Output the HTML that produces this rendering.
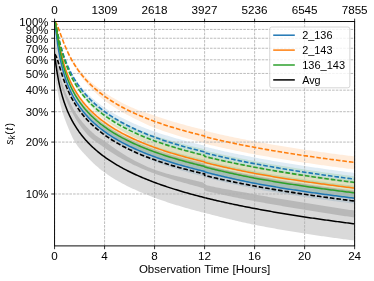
<!DOCTYPE html>
<html><head><meta charset="utf-8"><title>plot</title>
<style>html,body{margin:0;padding:0;background:#fff}svg{display:block}text{font-family:"Liberation Sans",sans-serif;font-size:10.6px;fill:#000}</style></head><body>
<svg width="374" height="281" viewBox="0 0 374 281">
<rect width="374" height="281" fill="#fff"/>
<defs><clipPath id="ax"><rect x="54.57" y="21.54" width="300.07" height="224.36"/></clipPath><filter id="noop" x="0" y="0" width="374" height="281" filterUnits="userSpaceOnUse" color-interpolation-filters="sRGB"><feOffset dx="0" dy="0"/></filter></defs>
<g clip-path="url(#ax)">
<path d="M54.57,21.54 L54.88,23.15 L55.20,25.43 L55.51,27.91 L55.82,30.44 L56.13,32.94 L56.45,35.39 L56.76,37.75 L57.07,40.03 L57.38,42.22 L57.70,44.31 L58.01,46.32 L58.32,48.25 L58.63,50.09 L58.95,51.86 L59.26,53.56 L59.57,55.19 L59.88,56.76 L60.20,58.27 L60.51,59.73 L60.82,61.14 L61.13,62.50 L61.45,63.81 L61.76,65.08 L62.07,66.31 L62.38,67.50 L62.70,68.66 L63.01,69.78 L63.32,70.87 L63.63,71.93 L63.95,72.96 L64.26,73.97 L64.57,74.95 L64.88,75.90 L65.20,76.83 L65.51,77.74 L65.82,78.62 L66.14,79.49 L66.45,80.33 L66.76,81.16 L67.07,81.97 L67.70,83.54 L68.32,85.03 L68.95,86.47 L69.57,87.85 L70.20,89.18 L70.82,90.46 L71.45,91.69 L72.07,92.88 L72.70,94.03 L73.32,95.14 L73.95,96.22 L74.57,97.27 L75.20,98.29 L75.82,99.27 L76.45,100.23 L77.08,101.17 L77.70,102.08 L78.33,102.96 L78.95,103.83 L79.58,104.67 L80.20,105.49 L80.83,106.30 L81.45,107.08 L82.08,107.85 L82.70,108.59 L83.33,109.33 L83.95,110.04 L84.58,110.74 L85.20,111.43 L85.83,112.10 L86.45,112.76 L87.08,113.40 L87.70,114.04 L88.33,114.66 L88.95,115.27 L89.58,115.87 L90.20,116.46 L90.83,117.03 L91.45,117.60 L92.08,118.16 L92.70,118.71 L93.33,119.25 L93.95,119.78 L94.58,120.31 L95.20,120.83 L95.83,121.33 L96.45,121.84 L97.08,122.33 L97.71,122.82 L98.33,123.30 L98.96,123.77 L99.58,124.24 L100.21,124.70 L100.83,125.15 L101.46,125.60 L102.08,126.04 L102.71,126.48 L103.33,126.91 L103.96,127.34 L104.58,127.76 L106.14,128.79 L107.71,129.79 L109.27,130.76 L110.83,131.70 L112.40,132.62 L113.96,133.51 L115.52,134.38 L117.08,135.22 L118.65,136.05 L120.21,136.86 L121.77,137.64 L123.34,138.41 L124.90,139.16 L126.46,139.90 L128.02,140.62 L129.59,141.32 L131.15,142.01 L132.71,142.69 L134.28,143.35 L135.84,144.01 L137.40,144.64 L138.96,145.27 L140.53,145.89 L142.09,146.50 L143.65,147.09 L145.22,147.68 L146.78,148.26 L148.34,148.83 L149.90,149.38 L151.47,149.94 L153.03,150.48 L154.59,151.01 L156.16,151.53 L157.72,152.04 L159.28,152.54 L160.84,153.03 L162.41,153.51 L163.97,153.99 L165.53,154.46 L167.10,154.92 L168.66,155.37 L170.22,155.82 L171.78,156.26 L173.35,156.70 L174.91,157.13 L176.47,157.56 L178.04,157.98 L179.60,158.40 L181.16,158.81 L182.72,159.22 L184.29,159.63 L185.85,160.03 L187.41,160.43 L188.98,160.83 L190.54,161.22 L192.10,161.61 L193.66,161.99 L195.23,162.38 L196.79,162.76 L198.35,163.14 L199.92,163.51 L201.48,163.89 L203.04,164.26 L204.60,164.63 L204.61,165.13 L206.17,165.53 L207.73,165.93 L209.29,166.32 L210.86,166.71 L212.42,167.09 L213.98,167.48 L215.55,167.85 L217.11,168.23 L218.67,168.60 L220.23,168.97 L221.80,169.33 L223.36,169.70 L224.92,170.06 L226.49,170.41 L228.05,170.77 L229.61,171.12 L231.17,171.47 L232.74,171.81 L234.30,172.15 L235.86,172.49 L237.43,172.83 L238.99,173.16 L240.55,173.50 L242.11,173.82 L243.68,174.15 L245.24,174.48 L246.80,174.80 L248.37,175.12 L249.93,175.44 L251.49,175.75 L253.05,176.06 L254.62,176.37 L256.18,176.66 L257.74,176.94 L259.31,177.22 L260.87,177.50 L262.43,177.77 L263.99,178.04 L265.56,178.32 L267.12,178.58 L268.68,178.85 L270.25,179.12 L271.81,179.38 L273.37,179.64 L274.93,179.90 L276.50,180.16 L278.06,180.42 L279.62,180.67 L281.19,180.92 L282.75,181.18 L284.31,181.43 L285.87,181.67 L287.44,181.92 L289.00,182.16 L290.56,182.41 L292.13,182.65 L293.69,182.89 L295.25,183.13 L296.81,183.36 L298.38,183.60 L299.94,183.83 L301.50,184.07 L303.07,184.30 L304.63,184.53 L306.19,184.76 L307.75,184.98 L309.32,185.21 L310.88,185.43 L312.44,185.66 L314.01,185.88 L315.57,186.10 L317.13,186.32 L318.69,186.53 L320.26,186.75 L321.82,186.97 L323.38,187.18 L324.95,187.39 L326.51,187.60 L328.07,187.81 L329.63,188.02 L331.20,188.23 L332.76,188.44 L334.32,188.64 L335.89,188.85 L337.45,189.05 L339.01,189.26 L340.57,189.46 L342.14,189.66 L343.70,189.86 L345.26,190.06 L346.83,190.25 L348.39,190.45 L349.95,190.64 L351.51,190.84 L353.08,191.03 L354.64,191.22 L354.64,203.72 L353.08,203.53 L351.51,203.34 L349.95,203.14 L348.39,202.95 L346.83,202.75 L345.26,202.55 L343.70,202.36 L342.14,202.16 L340.57,201.96 L339.01,201.75 L337.45,201.55 L335.89,201.35 L334.32,201.14 L332.76,200.93 L331.20,200.73 L329.63,200.52 L328.07,200.31 L326.51,200.09 L324.95,199.88 L323.38,199.67 L321.82,199.45 L320.26,199.24 L318.69,199.02 L317.13,198.80 L315.57,198.58 L314.01,198.36 L312.44,198.13 L310.88,197.91 L309.32,197.68 L307.75,197.45 L306.19,197.23 L304.63,197.00 L303.07,196.76 L301.50,196.53 L299.94,196.30 L298.38,196.06 L296.81,195.82 L295.25,195.58 L293.69,195.34 L292.13,195.10 L290.56,194.85 L289.00,194.61 L287.44,194.36 L285.87,194.11 L284.31,193.86 L282.75,193.61 L281.19,193.35 L279.62,193.10 L278.06,192.84 L276.50,192.58 L274.93,192.31 L273.37,192.05 L271.81,191.79 L270.25,191.52 L268.68,191.25 L267.12,190.98 L265.56,190.70 L263.99,190.43 L262.43,190.15 L260.87,189.87 L259.31,189.59 L257.74,189.30 L256.18,189.02 L254.62,188.73 L253.05,188.41 L251.49,188.09 L249.93,187.77 L248.37,187.45 L246.80,187.12 L245.24,186.79 L243.68,186.46 L242.11,186.13 L240.55,185.79 L238.99,185.45 L237.43,185.11 L235.86,184.77 L234.30,184.42 L232.74,184.07 L231.17,183.72 L229.61,183.37 L228.05,183.01 L226.49,182.65 L224.92,182.28 L223.36,181.91 L221.80,181.54 L220.23,181.17 L218.67,180.79 L217.11,180.41 L215.55,180.02 L213.98,179.64 L212.42,179.25 L210.86,178.85 L209.29,178.45 L207.73,178.05 L206.17,177.64 L204.61,177.23 L204.60,176.73 L203.04,176.35 L201.48,175.96 L199.92,175.57 L198.35,175.17 L196.79,174.77 L195.23,174.36 L193.66,173.95 L192.10,173.54 L190.54,173.11 L188.98,172.68 L187.41,172.25 L185.85,171.81 L184.29,171.37 L182.72,170.91 L181.16,170.46 L179.60,169.99 L178.04,169.52 L176.47,169.05 L174.91,168.56 L173.35,168.07 L171.78,167.58 L170.22,167.07 L168.66,166.56 L167.10,166.04 L165.53,165.52 L163.97,164.98 L162.41,164.44 L160.84,163.89 L159.28,163.34 L157.72,162.77 L156.16,162.20 L154.59,161.61 L153.03,161.01 L151.47,160.40 L149.90,159.78 L148.34,159.15 L146.78,158.50 L145.22,157.85 L143.65,157.18 L142.09,156.50 L140.53,155.81 L138.96,155.10 L137.40,154.38 L135.84,153.65 L134.28,152.90 L132.71,152.14 L131.15,151.36 L129.59,150.56 L128.02,149.75 L126.46,148.92 L124.90,148.07 L123.34,147.20 L121.77,146.32 L120.21,145.41 L118.65,144.48 L117.08,143.53 L115.52,142.55 L113.96,141.55 L112.40,140.52 L110.83,139.47 L109.27,138.39 L107.71,137.28 L106.14,136.14 L104.58,134.96 L103.96,134.48 L103.33,133.99 L102.71,133.50 L102.08,133.00 L101.46,132.50 L100.83,131.99 L100.21,131.47 L99.58,130.95 L98.96,130.41 L98.33,129.87 L97.71,129.33 L97.08,128.77 L96.45,128.21 L95.83,127.64 L95.20,127.06 L94.58,126.47 L93.95,125.87 L93.33,125.27 L92.70,124.65 L92.08,124.03 L91.45,123.39 L90.83,122.75 L90.20,122.09 L89.58,121.42 L88.95,120.74 L88.33,120.05 L87.70,119.35 L87.08,118.63 L86.45,117.91 L85.83,117.16 L85.20,116.41 L84.58,115.64 L83.95,114.85 L83.33,114.05 L82.70,113.23 L82.08,112.40 L81.45,111.54 L80.83,110.67 L80.20,109.78 L79.58,108.87 L78.95,107.94 L78.33,106.98 L77.70,106.00 L77.08,105.00 L76.45,103.97 L75.82,102.91 L75.20,101.82 L74.57,100.70 L73.95,99.55 L73.32,98.37 L72.70,97.15 L72.07,95.89 L71.45,94.59 L70.82,93.25 L70.20,91.87 L69.57,90.44 L68.95,88.96 L68.32,87.42 L67.70,85.83 L67.07,84.17 L66.76,83.32 L66.45,82.45 L66.14,81.55 L65.82,80.64 L65.51,79.71 L65.20,78.75 L64.88,77.77 L64.57,76.77 L64.26,75.74 L63.95,74.69 L63.63,73.60 L63.32,72.49 L63.01,71.34 L62.70,70.16 L62.38,68.95 L62.07,67.70 L61.76,66.41 L61.45,65.08 L61.13,63.71 L60.82,62.29 L60.51,60.82 L60.20,59.30 L59.88,57.73 L59.57,56.09 L59.26,54.39 L58.95,52.63 L58.63,50.79 L58.32,48.88 L58.01,46.89 L57.70,44.82 L57.38,42.66 L57.07,40.41 L56.76,38.07 L56.45,35.64 L56.13,33.14 L55.82,30.58 L55.51,28.00 L55.20,25.48 L54.88,23.17 L54.57,21.54Z" fill="#1f77b4" fill-opacity="0.15"/>
<path d="M54.57,21.54 L54.88,22.22 L55.20,23.23 L55.51,24.40 L55.82,25.66 L56.13,26.96 L56.45,28.30 L56.76,29.65 L57.07,31.00 L57.38,32.34 L57.70,33.67 L58.01,34.98 L58.32,36.27 L58.63,37.54 L58.95,38.78 L59.26,40.00 L59.57,41.19 L59.88,42.36 L60.20,43.50 L60.51,44.61 L60.82,45.71 L61.13,46.77 L61.45,47.82 L61.76,48.84 L62.07,49.84 L62.38,50.82 L62.70,51.78 L63.01,52.72 L63.32,53.63 L63.63,54.53 L63.95,55.41 L64.26,56.28 L64.57,57.12 L64.88,57.95 L65.20,58.77 L65.51,59.56 L65.82,60.35 L66.14,61.12 L66.45,61.87 L66.76,62.61 L67.07,63.34 L67.70,64.75 L68.32,66.12 L68.95,67.44 L69.57,68.71 L70.20,69.94 L70.82,71.13 L71.45,72.29 L72.07,73.41 L72.70,74.50 L73.32,75.55 L73.95,76.58 L74.57,77.58 L75.20,78.55 L75.82,79.50 L76.45,80.42 L77.08,81.32 L77.70,82.20 L78.33,83.06 L78.95,83.90 L79.58,84.72 L80.20,85.52 L80.83,86.30 L81.45,87.06 L82.08,87.81 L82.70,88.54 L83.33,89.25 L83.95,89.95 L84.58,90.63 L85.20,91.30 L85.83,91.96 L86.45,92.61 L87.08,93.24 L87.70,93.86 L88.33,94.48 L88.95,95.08 L89.58,95.67 L90.20,96.26 L90.83,96.83 L91.45,97.40 L92.08,97.96 L92.70,98.51 L93.33,99.06 L93.95,99.59 L94.58,100.12 L95.20,100.64 L95.83,101.16 L96.45,101.66 L97.08,102.16 L97.71,102.65 L98.33,103.14 L98.96,103.62 L99.58,104.09 L100.21,104.56 L100.83,105.02 L101.46,105.48 L102.08,105.93 L102.71,106.37 L103.33,106.81 L103.96,107.24 L104.58,107.67 L106.14,108.72 L107.71,109.74 L109.27,110.73 L110.83,111.69 L112.40,112.63 L113.96,113.54 L115.52,114.43 L117.08,115.29 L118.65,116.14 L120.21,116.97 L121.77,117.77 L123.34,118.56 L124.90,119.34 L126.46,120.10 L128.02,120.84 L129.59,121.57 L131.15,122.28 L132.71,122.98 L134.28,123.67 L135.84,124.35 L137.40,125.01 L138.96,125.66 L140.53,126.31 L142.09,126.94 L143.65,127.55 L145.22,128.14 L146.78,128.73 L148.34,129.31 L149.90,129.88 L151.47,130.45 L153.03,131.00 L154.59,131.55 L156.16,132.09 L157.72,132.62 L159.28,133.14 L160.84,133.65 L162.41,134.15 L163.97,134.65 L165.53,135.14 L167.10,135.62 L168.66,136.10 L170.22,136.57 L171.78,137.04 L173.35,137.49 L174.91,137.95 L176.47,138.40 L178.04,138.84 L179.60,139.28 L181.16,139.71 L182.72,140.14 L184.29,140.56 L185.85,140.98 L187.41,141.40 L188.98,141.81 L190.54,142.22 L192.10,142.62 L193.66,143.03 L195.23,143.42 L196.79,143.82 L198.35,144.21 L199.92,144.60 L201.48,144.98 L203.04,145.37 L204.60,145.75 L204.61,146.58 L206.17,146.97 L207.73,147.36 L209.29,147.74 L210.86,148.12 L212.42,148.50 L213.98,148.87 L215.55,149.24 L217.11,149.61 L218.67,149.97 L220.23,150.33 L221.80,150.69 L223.36,151.04 L224.92,151.39 L226.49,151.74 L228.05,152.08 L229.61,152.42 L231.17,152.76 L232.74,153.09 L234.30,153.42 L235.86,153.75 L237.43,154.08 L238.99,154.40 L240.55,154.72 L242.11,155.04 L243.68,155.36 L245.24,155.67 L246.80,155.98 L248.37,156.29 L249.93,156.59 L251.49,156.90 L253.05,157.20 L254.62,157.49 L256.18,157.79 L257.74,158.08 L259.31,158.38 L260.87,158.66 L262.43,158.95 L263.99,159.24 L265.56,159.52 L267.12,159.80 L268.68,160.08 L270.25,160.36 L271.81,160.63 L273.37,160.90 L274.93,161.17 L276.50,161.44 L278.06,161.71 L279.62,161.98 L281.19,162.24 L282.75,162.50 L284.31,162.76 L285.87,163.02 L287.44,163.28 L289.00,163.53 L290.56,163.78 L292.13,164.04 L293.69,164.29 L295.25,164.53 L296.81,164.78 L298.38,165.03 L299.94,165.27 L301.50,165.51 L303.07,165.75 L304.63,165.99 L306.19,166.23 L307.75,166.47 L309.32,166.70 L310.88,166.93 L312.44,167.17 L314.01,167.40 L315.57,167.63 L317.13,167.85 L318.69,168.08 L320.26,168.30 L321.82,168.53 L323.38,168.75 L324.95,168.97 L326.51,169.19 L328.07,169.41 L329.63,169.63 L331.20,169.85 L332.76,170.06 L334.32,170.27 L335.89,170.49 L337.45,170.70 L339.01,170.91 L340.57,171.12 L342.14,171.33 L343.70,171.53 L345.26,171.74 L346.83,171.94 L348.39,172.15 L349.95,172.35 L351.51,172.55 L353.08,172.75 L354.64,172.95 L354.64,183.65 L353.08,183.45 L351.51,183.25 L349.95,183.05 L348.39,182.85 L346.83,182.64 L345.26,182.44 L343.70,182.23 L342.14,182.03 L340.57,181.82 L339.01,181.61 L337.45,181.40 L335.89,181.19 L334.32,180.97 L332.76,180.76 L331.20,180.55 L329.63,180.33 L328.07,180.11 L326.51,179.89 L324.95,179.67 L323.38,179.45 L321.82,179.23 L320.26,179.00 L318.69,178.78 L317.13,178.55 L315.57,178.33 L314.01,178.10 L312.44,177.87 L310.88,177.63 L309.32,177.40 L307.75,177.17 L306.19,176.93 L304.63,176.69 L303.07,176.45 L301.50,176.21 L299.94,175.97 L298.38,175.73 L296.81,175.48 L295.25,175.23 L293.69,174.99 L292.13,174.74 L290.56,174.48 L289.00,174.23 L287.44,173.98 L285.87,173.72 L284.31,173.46 L282.75,173.20 L281.19,172.94 L279.62,172.68 L278.06,172.41 L276.50,172.14 L274.93,171.87 L273.37,171.60 L271.81,171.33 L270.25,171.06 L268.68,170.78 L267.12,170.50 L265.56,170.22 L263.99,169.94 L262.43,169.65 L260.87,169.36 L259.31,169.08 L257.74,168.78 L256.18,168.49 L254.62,168.19 L253.05,167.90 L251.49,167.60 L249.93,167.29 L248.37,166.99 L246.80,166.68 L245.24,166.37 L243.68,166.06 L242.11,165.74 L240.55,165.42 L238.99,165.10 L237.43,164.78 L235.86,164.45 L234.30,164.12 L232.74,163.79 L231.17,163.46 L229.61,163.12 L228.05,162.78 L226.49,162.44 L224.92,162.09 L223.36,161.74 L221.80,161.39 L220.23,161.03 L218.67,160.67 L217.11,160.31 L215.55,159.94 L213.98,159.57 L212.42,159.20 L210.86,158.82 L209.29,158.44 L207.73,158.06 L206.17,157.67 L204.61,157.28 L204.60,156.45 L203.04,156.07 L201.48,155.68 L199.92,155.29 L198.35,154.89 L196.79,154.48 L195.23,154.08 L193.66,153.66 L192.10,153.24 L190.54,152.81 L188.98,152.38 L187.41,151.94 L185.85,151.49 L184.29,151.04 L182.72,150.58 L181.16,150.12 L179.60,149.65 L178.04,149.17 L176.47,148.69 L174.91,148.20 L173.35,147.70 L171.78,147.19 L170.22,146.68 L168.66,146.16 L167.10,145.63 L165.53,145.10 L163.97,144.56 L162.41,144.01 L160.84,143.45 L159.28,142.89 L157.72,142.32 L156.16,141.74 L154.59,141.15 L153.03,140.55 L151.47,139.94 L149.90,139.33 L148.34,138.70 L146.78,138.06 L145.22,137.42 L143.65,136.76 L142.09,136.08 L140.53,135.39 L138.96,134.67 L137.40,133.95 L135.84,133.21 L134.28,132.46 L132.71,131.70 L131.15,130.92 L129.59,130.12 L128.02,129.31 L126.46,128.48 L124.90,127.63 L123.34,126.76 L121.77,125.88 L120.21,124.97 L118.65,124.05 L117.08,123.10 L115.52,122.12 L113.96,121.13 L112.40,120.11 L110.83,119.06 L109.27,117.98 L107.71,116.88 L106.14,115.74 L104.58,114.57 L103.96,114.10 L103.33,113.61 L102.71,113.12 L102.08,112.63 L101.46,112.13 L100.83,111.62 L100.21,111.11 L99.58,110.58 L98.96,110.06 L98.33,109.52 L97.71,108.98 L97.08,108.43 L96.45,107.88 L95.83,107.31 L95.20,106.74 L94.58,106.16 L93.95,105.57 L93.33,104.97 L92.70,104.36 L92.08,103.75 L91.45,103.12 L90.83,102.49 L90.20,101.84 L89.58,101.18 L88.95,100.52 L88.33,99.84 L87.70,99.15 L87.08,98.45 L86.45,97.73 L85.83,97.01 L85.20,96.27 L84.58,95.51 L83.95,94.74 L83.33,93.96 L82.70,93.16 L82.08,92.35 L81.45,91.52 L80.83,90.67 L80.20,89.80 L79.58,88.92 L78.95,88.01 L78.33,87.09 L77.70,86.14 L77.08,85.17 L76.45,84.17 L75.82,83.15 L75.20,82.10 L74.57,81.03 L73.95,79.92 L73.32,78.79 L72.70,77.63 L72.07,76.43 L71.45,75.20 L70.82,73.94 L70.20,72.64 L69.57,71.30 L68.95,69.92 L68.32,68.51 L67.70,67.04 L67.07,65.54 L66.76,64.77 L66.45,63.98 L66.14,63.18 L65.82,62.37 L65.51,61.54 L65.20,60.69 L64.88,59.83 L64.57,58.95 L64.26,58.05 L63.95,57.14 L63.63,56.20 L63.32,55.25 L63.01,54.28 L62.70,53.29 L62.38,52.27 L62.07,51.24 L61.76,50.18 L61.45,49.10 L61.13,47.99 L60.82,46.86 L60.51,45.71 L60.20,44.53 L59.88,43.33 L59.57,42.10 L59.26,40.84 L58.95,39.56 L58.63,38.25 L58.32,36.92 L58.01,35.56 L57.70,34.18 L57.38,32.79 L57.07,31.39 L56.76,29.97 L56.45,28.56 L56.13,27.17 L55.82,25.80 L55.51,24.50 L55.20,23.29 L54.88,22.24 L54.57,21.54Z" fill="#1f77b4" fill-opacity="0.15"/>
<path d="M54.57,21.54 L54.88,21.81 L55.20,22.50 L55.51,23.51 L55.82,24.79 L56.13,26.26 L56.45,27.87 L56.76,29.58 L57.07,31.34 L57.38,33.12 L57.70,34.91 L58.01,36.68 L58.32,38.43 L58.63,40.14 L58.95,41.82 L59.26,43.45 L59.57,45.04 L59.88,46.58 L60.20,48.08 L60.51,49.54 L60.82,50.95 L61.13,52.32 L61.45,53.64 L61.76,54.93 L62.07,56.19 L62.38,57.40 L62.70,58.58 L63.01,59.73 L63.32,60.85 L63.63,61.94 L63.95,62.99 L64.26,64.03 L64.57,65.03 L64.88,66.01 L65.20,66.96 L65.51,67.90 L65.82,68.81 L66.14,69.69 L66.45,70.56 L66.76,71.41 L67.07,72.24 L67.70,73.85 L68.32,75.38 L68.95,76.85 L69.57,78.27 L70.20,79.62 L70.82,80.93 L71.45,82.19 L72.07,83.40 L72.70,84.58 L73.32,85.71 L73.95,86.81 L74.57,87.87 L75.20,88.91 L75.82,89.91 L76.45,90.88 L77.08,91.83 L77.70,92.75 L78.33,93.65 L78.95,94.53 L79.58,95.38 L80.20,96.21 L80.83,97.02 L81.45,97.81 L82.08,98.59 L82.70,99.34 L83.33,100.08 L83.95,100.80 L84.58,101.51 L85.20,102.20 L85.83,102.87 L86.45,103.54 L87.08,104.19 L87.70,104.82 L88.33,105.45 L88.95,106.06 L89.58,106.66 L90.20,107.25 L90.83,107.83 L91.45,108.40 L92.08,108.96 L92.70,109.52 L93.33,110.06 L93.95,110.59 L94.58,111.12 L95.20,111.63 L95.83,112.14 L96.45,112.64 L97.08,113.14 L97.71,113.63 L98.33,114.11 L98.96,114.58 L99.58,115.05 L100.21,115.51 L100.83,115.96 L101.46,116.41 L102.08,116.85 L102.71,117.29 L103.33,117.72 L103.96,118.14 L104.58,118.56 L106.14,119.59 L107.71,120.59 L109.27,121.56 L110.83,122.50 L112.40,123.41 L113.96,124.30 L115.52,125.16 L117.08,126.00 L118.65,126.82 L120.21,127.62 L121.77,128.40 L123.34,129.17 L124.90,129.91 L126.46,130.65 L128.02,131.36 L129.59,132.06 L131.15,132.75 L132.71,133.42 L134.28,134.08 L135.84,134.72 L137.40,135.36 L138.96,135.98 L140.53,136.59 L142.09,137.19 L143.65,137.79 L145.22,138.37 L146.78,138.94 L148.34,139.50 L149.90,140.06 L151.47,140.60 L153.03,141.14 L154.59,141.67 L156.16,142.18 L157.72,142.68 L159.28,143.18 L160.84,143.66 L162.41,144.14 L163.97,144.61 L165.53,145.08 L167.10,145.53 L168.66,145.98 L170.22,146.43 L171.78,146.86 L173.35,147.30 L174.91,147.72 L176.47,148.15 L178.04,148.56 L179.60,148.98 L181.16,149.39 L182.72,149.79 L184.29,150.19 L185.85,150.59 L187.41,150.98 L188.98,151.37 L190.54,151.76 L192.10,152.15 L193.66,152.53 L195.23,152.91 L196.79,153.29 L198.35,153.66 L199.92,154.03 L201.48,154.40 L203.04,154.77 L204.60,155.13 L204.61,155.63 L206.17,156.02 L207.73,156.40 L209.29,156.78 L210.86,157.16 L212.42,157.53 L213.98,157.90 L215.55,158.26 L217.11,158.62 L218.67,158.98 L220.23,159.34 L221.80,159.69 L223.36,160.04 L224.92,160.38 L226.49,160.73 L228.05,161.07 L229.61,161.41 L231.17,161.74 L232.74,162.07 L234.30,162.40 L235.86,162.73 L237.43,163.05 L238.99,163.37 L240.55,163.69 L242.11,164.01 L243.68,164.32 L245.24,164.63 L246.80,164.94 L248.37,165.25 L249.93,165.55 L251.49,165.85 L253.05,166.15 L254.62,166.45 L256.18,166.73 L257.74,167.01 L259.31,167.29 L260.87,167.56 L262.43,167.83 L263.99,168.10 L265.56,168.37 L267.12,168.64 L268.68,168.90 L270.25,169.16 L271.81,169.42 L273.37,169.68 L274.93,169.94 L276.50,170.19 L278.06,170.44 L279.62,170.70 L281.19,170.95 L282.75,171.19 L284.31,171.44 L285.87,171.68 L287.44,171.93 L289.00,172.17 L290.56,172.41 L292.13,172.65 L293.69,172.88 L295.25,173.12 L296.81,173.35 L298.38,173.59 L299.94,173.82 L301.50,174.05 L303.07,174.28 L304.63,174.50 L306.19,174.73 L307.75,174.95 L309.32,175.17 L310.88,175.40 L312.44,175.62 L314.01,175.83 L315.57,176.05 L317.13,176.27 L318.69,176.48 L320.26,176.70 L321.82,176.91 L323.38,177.12 L324.95,177.33 L326.51,177.54 L328.07,177.75 L329.63,177.95 L331.20,178.16 L332.76,178.36 L334.32,178.57 L335.89,178.77 L337.45,178.97 L339.01,179.17 L340.57,179.37 L342.14,179.57 L343.70,179.76 L345.26,179.96 L346.83,180.15 L348.39,180.35 L349.95,180.54 L351.51,180.73 L353.08,180.92 L354.64,181.11 L354.64,193.61 L353.08,193.42 L351.51,193.23 L349.95,193.04 L348.39,192.85 L346.83,192.65 L345.26,192.46 L343.70,192.26 L342.14,192.06 L340.57,191.87 L339.01,191.67 L337.45,191.47 L335.89,191.26 L334.32,191.06 L332.76,190.86 L331.20,190.65 L329.63,190.45 L328.07,190.24 L326.51,190.03 L324.95,189.82 L323.38,189.61 L321.82,189.40 L320.26,189.18 L318.69,188.97 L317.13,188.75 L315.57,188.53 L314.01,188.31 L312.44,188.09 L310.88,187.87 L309.32,187.65 L307.75,187.42 L306.19,187.20 L304.63,186.97 L303.07,186.74 L301.50,186.51 L299.94,186.28 L298.38,186.05 L296.81,185.81 L295.25,185.57 L293.69,185.34 L292.13,185.10 L290.56,184.86 L289.00,184.61 L287.44,184.37 L285.87,184.12 L284.31,183.87 L282.75,183.62 L281.19,183.37 L279.62,183.12 L278.06,182.86 L276.50,182.61 L274.93,182.35 L273.37,182.09 L271.81,181.83 L270.25,181.56 L268.68,181.30 L267.12,181.03 L265.56,180.76 L263.99,180.48 L262.43,180.21 L260.87,179.93 L259.31,179.65 L257.74,179.37 L256.18,179.09 L254.62,178.81 L253.05,178.50 L251.49,178.20 L249.93,177.89 L248.37,177.58 L246.80,177.27 L245.24,176.95 L243.68,176.63 L242.11,176.31 L240.55,175.99 L238.99,175.66 L237.43,175.34 L235.86,175.00 L234.30,174.67 L232.74,174.33 L231.17,174.00 L229.61,173.65 L228.05,173.31 L226.49,172.96 L224.92,172.61 L223.36,172.25 L221.80,171.90 L220.23,171.54 L218.67,171.17 L217.11,170.80 L215.55,170.43 L213.98,170.06 L212.42,169.68 L210.86,169.30 L209.29,168.91 L207.73,168.52 L206.17,168.13 L204.61,167.73 L204.60,167.23 L203.04,166.86 L201.48,166.47 L199.92,166.09 L198.35,165.69 L196.79,165.30 L195.23,164.89 L193.66,164.49 L192.10,164.07 L190.54,163.66 L188.98,163.23 L187.41,162.80 L185.85,162.37 L184.29,161.93 L182.72,161.48 L181.16,161.03 L179.60,160.57 L178.04,160.10 L176.47,159.63 L174.91,159.15 L173.35,158.67 L171.78,158.18 L170.22,157.68 L168.66,157.17 L167.10,156.66 L165.53,156.14 L163.97,155.61 L162.41,155.07 L160.84,154.53 L159.28,153.98 L157.72,153.42 L156.16,152.85 L154.59,152.27 L153.03,151.67 L151.47,151.07 L149.90,150.45 L148.34,149.82 L146.78,149.18 L145.22,148.53 L143.65,147.87 L142.09,147.20 L140.53,146.51 L138.96,145.81 L137.40,145.10 L135.84,144.37 L134.28,143.62 L132.71,142.87 L131.15,142.09 L129.59,141.30 L128.02,140.49 L126.46,139.67 L124.90,138.82 L123.34,137.96 L121.77,137.08 L120.21,136.18 L118.65,135.25 L117.08,134.30 L115.52,133.33 L113.96,132.33 L112.40,131.31 L110.83,130.26 L109.27,129.19 L107.71,128.08 L106.14,126.94 L104.58,125.76 L103.96,125.29 L103.33,124.80 L102.71,124.31 L102.08,123.81 L101.46,123.31 L100.83,122.80 L100.21,122.28 L99.58,121.75 L98.96,121.22 L98.33,120.68 L97.71,120.14 L97.08,119.58 L96.45,119.02 L95.83,118.45 L95.20,117.87 L94.58,117.28 L93.95,116.68 L93.33,116.07 L92.70,115.46 L92.08,114.83 L91.45,114.19 L90.83,113.54 L90.20,112.89 L89.58,112.22 L88.95,111.54 L88.33,110.84 L87.70,110.14 L87.08,109.42 L86.45,108.68 L85.83,107.94 L85.20,107.18 L84.58,106.40 L83.95,105.61 L83.33,104.80 L82.70,103.98 L82.08,103.14 L81.45,102.28 L80.83,101.40 L80.20,100.50 L79.58,99.58 L78.95,98.64 L78.33,97.67 L77.70,96.68 L77.08,95.66 L76.45,94.62 L75.82,93.55 L75.20,92.44 L74.57,91.31 L73.95,90.14 L73.32,88.94 L72.70,87.70 L72.07,86.42 L71.45,85.09 L70.82,83.73 L70.20,82.32 L69.57,80.85 L68.95,79.34 L68.32,77.77 L67.70,76.14 L67.07,74.44 L66.76,73.57 L66.45,72.67 L66.14,71.76 L65.82,70.82 L65.51,69.87 L65.20,68.89 L64.88,67.88 L64.57,66.85 L64.26,65.80 L63.95,64.72 L63.63,63.61 L63.32,62.47 L63.01,61.29 L62.70,60.09 L62.38,58.85 L62.07,57.58 L61.76,56.27 L61.45,54.92 L61.13,53.53 L60.82,52.10 L60.51,50.63 L60.20,49.11 L59.88,47.55 L59.57,45.94 L59.26,44.29 L58.95,42.59 L58.63,40.85 L58.32,39.07 L58.01,37.25 L57.70,35.41 L57.38,33.56 L57.07,31.71 L56.76,29.89 L56.45,28.13 L56.13,26.46 L55.82,24.93 L55.51,23.61 L55.20,22.55 L54.88,21.83 L54.57,21.54Z" fill="#ff7f0e" fill-opacity="0.15"/>
<path d="M54.57,21.54 L54.88,21.63 L55.20,21.86 L55.51,22.18 L55.82,22.58 L56.13,23.06 L56.45,23.61 L56.76,24.20 L57.07,24.85 L57.38,25.53 L57.70,26.25 L58.01,27.00 L58.32,27.77 L58.63,28.56 L58.95,29.36 L59.26,30.18 L59.57,31.00 L59.88,31.83 L60.20,32.66 L60.51,33.49 L60.82,34.32 L61.13,35.15 L61.45,35.97 L61.76,36.79 L62.07,37.60 L62.38,38.41 L62.70,39.20 L63.01,39.99 L63.32,40.78 L63.63,41.55 L63.95,42.31 L64.26,43.06 L64.57,43.81 L64.88,44.54 L65.20,45.27 L65.51,45.99 L65.82,46.69 L66.14,47.39 L66.45,48.08 L66.76,48.75 L67.07,49.42 L67.70,50.73 L68.32,52.00 L68.95,53.23 L69.57,54.42 L70.20,55.58 L70.82,56.70 L71.45,57.80 L72.07,58.86 L72.70,59.90 L73.32,60.91 L73.95,61.89 L74.57,62.85 L75.20,63.78 L75.82,64.70 L76.45,65.59 L77.08,66.46 L77.70,67.31 L78.33,68.15 L78.95,68.96 L79.58,69.76 L80.20,70.55 L80.83,71.31 L81.45,72.06 L82.08,72.80 L82.70,73.51 L83.33,74.22 L83.95,74.91 L84.58,75.59 L85.20,76.25 L85.83,76.90 L86.45,77.54 L87.08,78.17 L87.70,78.79 L88.33,79.40 L88.95,79.99 L89.58,80.58 L90.20,81.16 L90.83,81.73 L91.45,82.29 L92.08,82.84 L92.70,83.38 L93.33,83.92 L93.95,84.45 L94.58,84.97 L95.20,85.48 L95.83,85.98 L96.45,86.48 L97.08,86.98 L97.71,87.46 L98.33,87.94 L98.96,88.41 L99.58,88.88 L100.21,89.34 L100.83,89.80 L101.46,90.25 L102.08,90.70 L102.71,91.14 L103.33,91.57 L103.96,92.00 L104.58,92.43 L106.14,93.47 L107.71,94.50 L109.27,95.49 L110.83,96.46 L112.40,97.41 L113.96,98.34 L115.52,99.24 L117.08,100.12 L118.65,100.98 L120.21,101.82 L121.77,102.63 L123.34,103.43 L124.90,104.21 L126.46,104.97 L128.02,105.71 L129.59,106.44 L131.15,107.14 L132.71,107.83 L134.28,108.50 L135.84,109.16 L137.40,109.80 L138.96,110.42 L140.53,111.00 L142.09,111.55 L143.65,112.07 L145.22,112.57 L146.78,113.06 L148.34,113.56 L149.90,114.05 L151.47,114.55 L153.03,115.07 L154.59,115.61 L156.16,116.15 L157.72,116.69 L159.28,117.22 L160.84,117.74 L162.41,118.25 L163.97,118.76 L165.53,119.26 L167.10,119.75 L168.66,120.24 L170.22,120.72 L171.78,121.20 L173.35,121.67 L174.91,122.13 L176.47,122.59 L178.04,123.04 L179.60,123.49 L181.16,123.93 L182.72,124.37 L184.29,124.80 L185.85,125.23 L187.41,125.65 L188.98,126.07 L190.54,126.48 L192.10,126.89 L193.66,127.29 L195.23,127.69 L196.79,128.09 L198.35,128.48 L199.92,128.87 L201.48,129.25 L203.04,129.63 L204.60,130.01 L204.61,130.71 L206.17,131.09 L207.73,131.47 L209.29,131.84 L210.86,132.22 L212.42,132.59 L213.98,132.95 L215.55,133.31 L217.11,133.67 L218.67,134.02 L220.23,134.38 L221.80,134.72 L223.36,135.07 L224.92,135.41 L226.49,135.75 L228.05,136.08 L229.61,136.42 L231.17,136.75 L232.74,137.07 L234.30,137.40 L235.86,137.72 L237.43,138.04 L238.99,138.35 L240.55,138.66 L242.11,138.98 L243.68,139.28 L245.24,139.59 L246.80,139.89 L248.37,140.19 L249.93,140.49 L251.49,140.79 L253.05,141.08 L254.62,141.37 L256.18,141.66 L257.74,141.95 L259.31,142.23 L260.87,142.51 L262.43,142.79 L263.99,143.07 L265.56,143.35 L267.12,143.62 L268.68,143.89 L270.25,144.16 L271.81,144.43 L273.37,144.70 L274.93,144.96 L276.50,145.23 L278.06,145.49 L279.62,145.75 L281.19,146.00 L282.75,146.26 L284.31,146.51 L285.87,146.77 L287.44,147.02 L289.00,147.26 L290.56,147.51 L292.13,147.76 L293.69,148.00 L295.25,148.24 L296.81,148.48 L298.38,148.72 L299.94,148.96 L301.50,149.20 L303.07,149.43 L304.63,149.67 L306.19,149.90 L307.75,150.13 L309.32,150.36 L310.88,150.58 L312.44,150.81 L314.01,151.04 L315.57,151.26 L317.13,151.48 L318.69,151.70 L320.26,151.92 L321.82,152.14 L323.38,152.36 L324.95,152.57 L326.51,152.79 L328.07,153.00 L329.63,153.21 L331.20,153.42 L332.76,153.63 L334.32,153.84 L335.89,154.05 L337.45,154.26 L339.01,154.46 L340.57,154.67 L342.14,154.87 L343.70,155.07 L345.26,155.27 L346.83,155.47 L348.39,155.67 L349.95,155.87 L351.51,156.07 L353.08,156.26 L354.64,156.46 L354.64,169.46 L353.08,169.26 L351.51,169.07 L349.95,168.87 L348.39,168.67 L346.83,168.47 L345.26,168.27 L343.70,168.07 L342.14,167.87 L340.57,167.67 L339.01,167.46 L337.45,167.26 L335.89,167.05 L334.32,166.84 L332.76,166.63 L331.20,166.42 L329.63,166.21 L328.07,166.00 L326.51,165.79 L324.95,165.57 L323.38,165.35 L321.82,165.14 L320.26,164.92 L318.69,164.70 L317.13,164.48 L315.57,164.25 L314.01,164.03 L312.44,163.81 L310.88,163.58 L309.32,163.35 L307.75,163.12 L306.19,162.89 L304.63,162.66 L303.07,162.42 L301.50,162.19 L299.94,161.95 L298.38,161.71 L296.81,161.47 L295.25,161.23 L293.69,160.99 L292.13,160.75 L290.56,160.50 L289.00,160.25 L287.44,160.00 L285.87,159.75 L284.31,159.50 L282.75,159.24 L281.19,158.99 L279.62,158.73 L278.06,158.47 L276.50,158.21 L274.93,157.94 L273.37,157.68 L271.81,157.41 L270.25,157.14 L268.68,156.87 L267.12,156.60 L265.56,156.32 L263.99,156.04 L262.43,155.76 L260.87,155.48 L259.31,155.20 L257.74,154.91 L256.18,154.63 L254.62,154.34 L253.05,154.04 L251.49,153.75 L249.93,153.45 L248.37,153.15 L246.80,152.85 L245.24,152.54 L243.68,152.24 L242.11,151.93 L240.55,151.62 L238.99,151.30 L237.43,150.98 L235.86,150.66 L234.30,150.34 L232.74,150.01 L231.17,149.69 L229.61,149.35 L228.05,149.02 L226.49,148.68 L224.92,148.34 L223.36,148.00 L221.80,147.65 L220.23,147.30 L218.67,146.95 L217.11,146.59 L215.55,146.23 L213.98,145.87 L212.42,145.50 L210.86,145.13 L209.29,144.75 L207.73,144.37 L206.17,143.99 L204.61,143.61 L204.60,142.91 L203.04,142.53 L201.48,142.14 L199.92,141.75 L198.35,141.36 L196.79,140.96 L195.23,140.56 L193.66,140.15 L192.10,139.74 L190.54,139.32 L188.98,138.89 L187.41,138.46 L185.85,138.03 L184.29,137.58 L182.72,137.14 L181.16,136.68 L179.60,136.22 L178.04,135.75 L176.47,135.28 L174.91,134.80 L173.35,134.31 L171.78,133.81 L170.22,133.31 L168.66,132.80 L167.10,132.28 L165.53,131.75 L163.97,131.22 L162.41,130.67 L160.84,130.12 L159.28,129.56 L157.72,128.98 L156.16,128.40 L154.59,127.81 L153.03,127.20 L151.47,126.55 L149.90,125.88 L148.34,125.19 L146.78,124.47 L145.22,123.74 L143.65,123.00 L142.09,122.24 L140.53,121.48 L138.96,120.71 L137.40,119.96 L135.84,119.20 L134.28,118.43 L132.71,117.64 L131.15,116.85 L129.59,116.04 L128.02,115.22 L126.46,114.38 L124.90,113.53 L123.34,112.66 L121.77,111.78 L120.21,110.87 L118.65,109.95 L117.08,109.00 L115.52,108.04 L113.96,107.04 L112.40,106.03 L110.83,104.98 L109.27,103.91 L107.71,102.80 L106.14,101.66 L104.58,100.48 L103.96,100.00 L103.33,99.51 L102.71,99.01 L102.08,98.51 L101.46,98.00 L100.83,97.49 L100.21,96.96 L99.58,96.43 L98.96,95.90 L98.33,95.35 L97.71,94.80 L97.08,94.24 L96.45,93.68 L95.83,93.10 L95.20,92.52 L94.58,91.93 L93.95,91.33 L93.33,90.72 L92.70,90.10 L92.08,89.47 L91.45,88.83 L90.83,88.18 L90.20,87.52 L89.58,86.85 L88.95,86.18 L88.33,85.49 L87.70,84.78 L87.08,84.07 L86.45,83.34 L85.83,82.61 L85.20,81.86 L84.58,81.09 L83.95,80.32 L83.33,79.52 L82.70,78.72 L82.08,77.90 L81.45,77.06 L80.83,76.21 L80.20,75.35 L79.58,74.46 L78.95,73.56 L78.33,72.64 L77.70,71.70 L77.08,70.74 L76.45,69.76 L75.82,68.75 L75.20,67.72 L74.57,66.67 L73.95,65.59 L73.32,64.48 L72.70,63.35 L72.07,62.19 L71.45,61.00 L70.82,59.79 L70.20,58.54 L69.57,57.26 L68.95,55.95 L68.32,54.61 L67.70,53.23 L67.07,51.82 L66.76,51.11 L66.45,50.38 L66.14,49.64 L65.82,48.89 L65.51,48.13 L65.20,47.36 L64.88,46.58 L64.57,45.79 L64.26,44.99 L63.95,44.18 L63.63,43.36 L63.32,42.53 L63.01,41.68 L62.70,40.83 L62.38,39.97 L62.07,39.10 L61.76,38.23 L61.45,37.34 L61.13,36.45 L60.82,35.56 L60.51,34.66 L60.20,33.76 L59.88,32.86 L59.57,31.96 L59.26,31.07 L58.95,30.18 L58.63,29.30 L58.32,28.44 L58.01,27.60 L57.70,26.78 L57.38,25.99 L57.07,25.23 L56.76,24.52 L56.45,23.86 L56.13,23.25 L55.82,22.72 L55.51,22.26 L55.20,21.90 L54.88,21.65 L54.57,21.54Z" fill="#ff7f0e" fill-opacity="0.15"/>
<path d="M54.57,21.54 L54.88,21.86 L55.20,22.70 L55.51,23.94 L55.82,25.48 L56.13,27.24 L56.45,29.14 L56.76,31.12 L57.07,33.14 L57.38,35.17 L57.70,37.18 L58.01,39.15 L58.32,41.08 L58.63,42.95 L58.95,44.77 L59.26,46.53 L59.57,48.23 L59.88,49.88 L60.20,51.47 L60.51,53.01 L60.82,54.49 L61.13,55.93 L61.45,57.32 L61.76,58.66 L62.07,59.96 L62.38,61.22 L62.70,62.45 L63.01,63.63 L63.32,64.78 L63.63,65.90 L63.95,66.99 L64.26,68.05 L64.57,69.08 L64.88,70.08 L65.20,71.06 L65.51,72.01 L65.82,72.94 L66.14,73.84 L66.45,74.73 L66.76,75.59 L67.07,76.44 L67.70,78.07 L68.32,79.63 L68.95,81.12 L69.57,82.55 L70.20,83.92 L70.82,85.24 L71.45,86.52 L72.07,87.74 L72.70,88.93 L73.32,90.07 L73.95,91.18 L74.57,92.25 L75.20,93.29 L75.82,94.30 L76.45,95.28 L77.08,96.23 L77.70,97.16 L78.33,98.06 L78.95,98.94 L79.58,99.80 L80.20,100.64 L80.83,101.45 L81.45,102.25 L82.08,103.03 L82.70,103.78 L83.33,104.52 L83.95,105.25 L84.58,105.96 L85.20,106.65 L85.83,107.33 L86.45,107.99 L87.08,108.64 L87.70,109.28 L88.33,109.91 L88.95,110.52 L89.58,111.13 L90.20,111.72 L90.83,112.30 L91.45,112.87 L92.08,113.44 L92.70,113.99 L93.33,114.53 L93.95,115.07 L94.58,115.59 L95.20,116.11 L95.83,116.62 L96.45,117.12 L97.08,117.62 L97.71,118.11 L98.33,118.59 L98.96,119.06 L99.58,119.53 L100.21,119.99 L100.83,120.45 L101.46,120.89 L102.08,121.34 L102.71,121.77 L103.33,122.21 L103.96,122.63 L104.58,123.05 L106.14,124.08 L107.71,125.08 L109.27,126.05 L110.83,126.99 L112.40,127.90 L113.96,128.79 L115.52,129.66 L117.08,130.50 L118.65,131.32 L120.21,132.12 L121.77,132.90 L123.34,133.67 L124.90,134.42 L126.46,135.15 L128.02,135.86 L129.59,136.56 L131.15,137.25 L132.71,137.92 L134.28,138.58 L135.84,139.23 L137.40,139.86 L138.96,140.48 L140.53,141.10 L142.09,141.70 L143.65,142.29 L145.22,142.87 L146.78,143.44 L148.34,144.01 L149.90,144.56 L151.47,145.11 L153.03,145.64 L154.59,146.17 L156.16,146.69 L157.72,147.19 L159.28,147.68 L160.84,148.17 L162.41,148.65 L163.97,149.12 L165.53,149.58 L167.10,150.04 L168.66,150.49 L170.22,150.93 L171.78,151.37 L173.35,151.80 L174.91,152.23 L176.47,152.65 L178.04,153.07 L179.60,153.48 L181.16,153.89 L182.72,154.30 L184.29,154.70 L185.85,155.10 L187.41,155.49 L188.98,155.88 L190.54,156.27 L192.10,156.65 L193.66,157.04 L195.23,157.41 L196.79,157.79 L198.35,158.17 L199.92,158.54 L201.48,158.91 L203.04,159.28 L204.60,159.64 L204.61,160.14 L206.17,160.53 L207.73,160.93 L209.29,161.31 L210.86,161.69 L212.42,162.07 L213.98,162.45 L215.55,162.82 L217.11,163.19 L218.67,163.56 L220.23,163.92 L221.80,164.28 L223.36,164.64 L224.92,164.99 L226.49,165.34 L228.05,165.69 L229.61,166.04 L231.17,166.38 L232.74,166.72 L234.30,167.06 L235.86,167.39 L237.43,167.72 L238.99,168.05 L240.55,168.38 L242.11,168.70 L243.68,169.02 L245.24,169.34 L246.80,169.66 L248.37,169.97 L249.93,170.29 L251.49,170.60 L253.05,170.90 L254.62,171.21 L256.18,171.49 L257.74,171.77 L259.31,172.04 L260.87,172.32 L262.43,172.59 L263.99,172.86 L265.56,173.13 L267.12,173.39 L268.68,173.66 L270.25,173.92 L271.81,174.18 L273.37,174.44 L274.93,174.69 L276.50,174.95 L278.06,175.20 L279.62,175.45 L281.19,175.70 L282.75,175.95 L284.31,176.20 L285.87,176.44 L287.44,176.68 L289.00,176.92 L290.56,177.16 L292.13,177.40 L293.69,177.64 L295.25,177.88 L296.81,178.11 L298.38,178.34 L299.94,178.57 L301.50,178.80 L303.07,179.03 L304.63,179.26 L306.19,179.48 L307.75,179.71 L309.32,179.93 L310.88,180.15 L312.44,180.37 L314.01,180.59 L315.57,180.81 L317.13,181.02 L318.69,181.24 L320.26,181.45 L321.82,181.66 L323.38,181.87 L324.95,182.08 L326.51,182.29 L328.07,182.50 L329.63,182.71 L331.20,182.91 L332.76,183.12 L334.32,183.32 L335.89,183.52 L337.45,183.72 L339.01,183.92 L340.57,184.12 L342.14,184.32 L343.70,184.52 L345.26,184.71 L346.83,184.91 L348.39,185.10 L349.95,185.29 L351.51,185.48 L353.08,185.68 L354.64,185.87 L354.64,198.37 L353.08,198.18 L351.51,197.98 L349.95,197.79 L348.39,197.60 L346.83,197.41 L345.26,197.21 L343.70,197.02 L342.14,196.82 L340.57,196.62 L339.01,196.42 L337.45,196.22 L335.89,196.02 L334.32,195.82 L332.76,195.61 L331.20,195.41 L329.63,195.20 L328.07,194.99 L326.51,194.78 L324.95,194.57 L323.38,194.36 L321.82,194.15 L320.26,193.94 L318.69,193.72 L317.13,193.51 L315.57,193.29 L314.01,193.07 L312.44,192.85 L310.88,192.63 L309.32,192.40 L307.75,192.18 L306.19,191.95 L304.63,191.73 L303.07,191.50 L301.50,191.27 L299.94,191.03 L298.38,190.80 L296.81,190.57 L295.25,190.33 L293.69,190.09 L292.13,189.85 L290.56,189.61 L289.00,189.37 L287.44,189.12 L285.87,188.88 L284.31,188.63 L282.75,188.38 L281.19,188.13 L279.62,187.88 L278.06,187.62 L276.50,187.36 L274.93,187.10 L273.37,186.84 L271.81,186.58 L270.25,186.32 L268.68,186.05 L267.12,185.78 L265.56,185.51 L263.99,185.24 L262.43,184.97 L260.87,184.69 L259.31,184.41 L257.74,184.13 L256.18,183.85 L254.62,183.56 L253.05,183.25 L251.49,182.94 L249.93,182.62 L248.37,182.30 L246.80,181.98 L245.24,181.66 L243.68,181.33 L242.11,181.01 L240.55,180.68 L238.99,180.34 L237.43,180.01 L235.86,179.67 L234.30,179.33 L232.74,178.98 L231.17,178.63 L229.61,178.28 L228.05,177.93 L226.49,177.58 L224.92,177.22 L223.36,176.85 L221.80,176.49 L220.23,176.12 L218.67,175.75 L217.11,175.37 L215.55,174.99 L213.98,174.61 L212.42,174.23 L210.86,173.84 L209.29,173.44 L207.73,173.05 L206.17,172.65 L204.61,172.24 L204.60,171.74 L203.04,171.36 L201.48,170.98 L199.92,170.59 L198.35,170.20 L196.79,169.80 L195.23,169.40 L193.66,168.99 L192.10,168.58 L190.54,168.16 L188.98,167.74 L187.41,167.31 L185.85,166.87 L184.29,166.43 L182.72,165.99 L181.16,165.53 L179.60,165.07 L178.04,164.61 L176.47,164.14 L174.91,163.66 L173.35,163.17 L171.78,162.68 L170.22,162.18 L168.66,161.68 L167.10,161.16 L165.53,160.64 L163.97,160.11 L162.41,159.58 L160.84,159.03 L159.28,158.48 L157.72,157.92 L156.16,157.35 L154.59,156.77 L153.03,156.18 L151.47,155.57 L149.90,154.96 L148.34,154.33 L146.78,153.69 L145.22,153.04 L143.65,152.38 L142.09,151.70 L140.53,151.01 L138.96,150.31 L137.40,149.60 L135.84,148.87 L134.28,148.13 L132.71,147.37 L131.15,146.59 L129.59,145.80 L128.02,144.99 L126.46,144.17 L124.90,143.32 L123.34,142.46 L121.77,141.58 L120.21,140.67 L118.65,139.75 L117.08,138.80 L115.52,137.83 L113.96,136.83 L112.40,135.81 L110.83,134.76 L109.27,133.68 L107.71,132.57 L106.14,131.43 L104.58,130.25 L103.96,129.77 L103.33,129.29 L102.71,128.80 L102.08,128.30 L101.46,127.79 L100.83,127.28 L100.21,126.76 L99.58,126.24 L98.96,125.71 L98.33,125.17 L97.71,124.62 L97.08,124.06 L96.45,123.50 L95.83,122.93 L95.20,122.34 L94.58,121.75 L93.95,121.16 L93.33,120.55 L92.70,119.93 L92.08,119.30 L91.45,118.66 L90.83,118.01 L90.20,117.35 L89.58,116.68 L88.95,116.00 L88.33,115.30 L87.70,114.60 L87.08,113.88 L86.45,113.14 L85.83,112.39 L85.20,111.63 L84.58,110.85 L83.95,110.06 L83.33,109.25 L82.70,108.42 L82.08,107.58 L81.45,106.71 L80.83,105.83 L80.20,104.93 L79.58,104.00 L78.95,103.06 L78.33,102.08 L77.70,101.09 L77.08,100.07 L76.45,99.02 L75.82,97.94 L75.20,96.83 L74.57,95.68 L73.95,94.51 L73.32,93.29 L72.70,92.04 L72.07,90.75 L71.45,89.42 L70.82,88.04 L70.20,86.62 L69.57,85.14 L68.95,83.60 L68.32,82.01 L67.70,80.36 L67.07,78.64 L66.76,77.75 L66.45,76.84 L66.14,75.91 L65.82,74.96 L65.51,73.98 L65.20,72.98 L64.88,71.95 L64.57,70.90 L64.26,69.82 L63.95,68.71 L63.63,67.57 L63.32,66.40 L63.01,65.19 L62.70,63.95 L62.38,62.67 L62.07,61.35 L61.76,59.99 L61.45,58.59 L61.13,57.14 L60.82,55.64 L60.51,54.10 L60.20,52.50 L59.88,50.84 L59.57,49.13 L59.26,47.37 L58.95,45.54 L58.63,43.66 L58.32,41.72 L58.01,39.72 L57.70,37.69 L57.38,35.61 L57.07,33.52 L56.76,31.44 L56.45,29.39 L56.13,27.43 L55.82,25.62 L55.51,24.03 L55.20,22.75 L54.88,21.88 L54.57,21.54Z" fill="#2ca02c" fill-opacity="0.15"/>
<path d="M54.57,21.54 L54.88,21.92 L55.20,22.66 L55.51,23.65 L55.82,24.79 L56.13,26.05 L56.45,27.39 L56.76,28.78 L57.07,30.20 L57.38,31.65 L57.70,33.09 L58.01,34.53 L58.32,35.95 L58.63,37.36 L58.95,38.74 L59.26,40.10 L59.57,41.44 L59.88,42.74 L60.20,44.02 L60.51,45.27 L60.82,46.49 L61.13,47.68 L61.45,48.84 L61.76,49.98 L62.07,51.09 L62.38,52.17 L62.70,53.23 L63.01,54.26 L63.32,55.27 L63.63,56.26 L63.95,57.22 L64.26,58.17 L64.57,59.09 L64.88,59.99 L65.20,60.88 L65.51,61.74 L65.82,62.59 L66.14,63.42 L66.45,64.23 L66.76,65.03 L67.07,65.81 L67.70,67.33 L68.32,68.79 L68.95,70.19 L69.57,71.55 L70.20,72.85 L70.82,74.11 L71.45,75.33 L72.07,76.51 L72.70,77.65 L73.32,78.75 L73.95,79.83 L74.57,80.87 L75.20,81.88 L75.82,82.87 L76.45,83.83 L77.08,84.76 L77.70,85.68 L78.33,86.56 L78.95,87.43 L79.58,88.28 L80.20,89.11 L80.83,89.91 L81.45,90.70 L82.08,91.47 L82.70,92.23 L83.33,92.96 L83.95,93.68 L84.58,94.39 L85.20,95.08 L85.83,95.76 L86.45,96.42 L87.08,97.07 L87.70,97.71 L88.33,98.34 L88.95,98.96 L89.58,99.57 L90.20,100.16 L90.83,100.75 L91.45,101.32 L92.08,101.89 L92.70,102.45 L93.33,103.00 L93.95,103.54 L94.58,104.07 L95.20,104.59 L95.83,105.11 L96.45,105.62 L97.08,106.12 L97.71,106.62 L98.33,107.11 L98.96,107.59 L99.58,108.07 L100.21,108.54 L100.83,109.00 L101.46,109.46 L102.08,109.91 L102.71,110.36 L103.33,110.80 L103.96,111.24 L104.58,111.67 L106.14,112.73 L107.71,113.76 L109.27,114.75 L110.83,115.72 L112.40,116.67 L113.96,117.59 L115.52,118.49 L117.08,119.36 L118.65,120.22 L120.21,121.05 L121.77,121.87 L123.34,122.67 L124.90,123.45 L126.46,124.21 L128.02,124.96 L129.59,125.69 L131.15,126.40 L132.71,127.11 L134.28,127.80 L135.84,128.47 L137.40,129.14 L138.96,129.79 L140.53,130.43 L142.09,131.05 L143.65,131.66 L145.22,132.25 L146.78,132.83 L148.34,133.40 L149.90,133.96 L151.47,134.51 L153.03,135.06 L154.59,135.59 L156.16,136.12 L157.72,136.63 L159.28,137.14 L160.84,137.64 L162.41,138.12 L163.97,138.60 L165.53,139.08 L167.10,139.54 L168.66,140.00 L170.22,140.46 L171.78,140.90 L173.35,141.34 L174.91,141.78 L176.47,142.21 L178.04,142.64 L179.60,143.06 L181.16,143.47 L182.72,143.89 L184.29,144.30 L185.85,144.70 L187.41,145.10 L188.98,145.50 L190.54,145.89 L192.10,146.29 L193.66,146.67 L195.23,147.06 L196.79,147.44 L198.35,147.82 L199.92,148.20 L201.48,148.58 L203.04,148.95 L204.60,149.32 L204.61,150.35 L206.17,150.74 L207.73,151.12 L209.29,151.50 L210.86,151.88 L212.42,152.25 L213.98,152.62 L215.55,152.98 L217.11,153.35 L218.67,153.70 L220.23,154.06 L221.80,154.41 L223.36,154.76 L224.92,155.10 L226.49,155.44 L228.05,155.78 L229.61,156.12 L231.17,156.45 L232.74,156.78 L234.30,157.11 L235.86,157.43 L237.43,157.75 L238.99,158.07 L240.55,158.38 L242.11,158.70 L243.68,159.01 L245.24,159.32 L246.80,159.62 L248.37,159.93 L249.93,160.23 L251.49,160.52 L253.05,160.82 L254.62,161.11 L256.18,161.41 L257.74,161.70 L259.31,161.98 L260.87,162.27 L262.43,162.55 L263.99,162.83 L265.56,163.11 L267.12,163.39 L268.68,163.66 L270.25,163.93 L271.81,164.20 L273.37,164.47 L274.93,164.74 L276.50,165.00 L278.06,165.27 L279.62,165.53 L281.19,165.79 L282.75,166.05 L284.31,166.30 L285.87,166.56 L287.44,166.81 L289.00,167.06 L290.56,167.31 L292.13,167.56 L293.69,167.80 L295.25,168.05 L296.81,168.29 L298.38,168.53 L299.94,168.77 L301.50,169.01 L303.07,169.25 L304.63,169.48 L306.19,169.72 L307.75,169.95 L309.32,170.18 L310.88,170.41 L312.44,170.64 L314.01,170.87 L315.57,171.09 L317.13,171.32 L318.69,171.54 L320.26,171.76 L321.82,171.98 L323.38,172.20 L324.95,172.42 L326.51,172.63 L328.07,172.85 L329.63,173.06 L331.20,173.28 L332.76,173.49 L334.32,173.70 L335.89,173.91 L337.45,174.12 L339.01,174.32 L340.57,174.53 L342.14,174.73 L343.70,174.94 L345.26,175.14 L346.83,175.34 L348.39,175.54 L349.95,175.74 L351.51,175.94 L353.08,176.14 L354.64,176.34 L354.64,188.94 L353.08,188.74 L351.51,188.54 L349.95,188.34 L348.39,188.14 L346.83,187.94 L345.26,187.74 L343.70,187.54 L342.14,187.33 L340.57,187.13 L339.01,186.92 L337.45,186.72 L335.89,186.51 L334.32,186.30 L332.76,186.09 L331.20,185.88 L329.63,185.66 L328.07,185.45 L326.51,185.23 L324.95,185.02 L323.38,184.80 L321.82,184.58 L320.26,184.36 L318.69,184.14 L317.13,183.92 L315.57,183.69 L314.01,183.47 L312.44,183.24 L310.88,183.01 L309.32,182.78 L307.75,182.55 L306.19,182.32 L304.63,182.08 L303.07,181.85 L301.50,181.61 L299.94,181.37 L298.38,181.13 L296.81,180.89 L295.25,180.65 L293.69,180.40 L292.13,180.16 L290.56,179.91 L289.00,179.66 L287.44,179.41 L285.87,179.16 L284.31,178.90 L282.75,178.65 L281.19,178.39 L279.62,178.13 L278.06,177.87 L276.50,177.60 L274.93,177.34 L273.37,177.07 L271.81,176.80 L270.25,176.53 L268.68,176.26 L267.12,175.99 L265.56,175.71 L263.99,175.43 L262.43,175.15 L260.87,174.87 L259.31,174.58 L257.74,174.30 L256.18,174.01 L254.62,173.71 L253.05,173.42 L251.49,173.12 L249.93,172.83 L248.37,172.53 L246.80,172.22 L245.24,171.92 L243.68,171.61 L242.11,171.30 L240.55,170.98 L238.99,170.67 L237.43,170.35 L235.86,170.03 L234.30,169.71 L232.74,169.38 L231.17,169.05 L229.61,168.72 L228.05,168.38 L226.49,168.04 L224.92,167.70 L223.36,167.36 L221.80,167.01 L220.23,166.66 L218.67,166.30 L217.11,165.95 L215.55,165.58 L213.98,165.22 L212.42,164.85 L210.86,164.48 L209.29,164.10 L207.73,163.72 L206.17,163.34 L204.61,162.95 L204.60,161.92 L203.04,161.55 L201.48,161.17 L199.92,160.78 L198.35,160.39 L196.79,159.98 L195.23,159.58 L193.66,159.16 L192.10,158.74 L190.54,158.31 L188.98,157.87 L187.41,157.43 L185.85,156.98 L184.29,156.52 L182.72,156.05 L181.16,155.58 L179.60,155.10 L178.04,154.61 L176.47,154.11 L174.91,153.61 L173.35,153.10 L171.78,152.58 L170.22,152.05 L168.66,151.52 L167.10,150.98 L165.53,150.43 L163.97,149.88 L162.41,149.31 L160.84,148.74 L159.28,148.17 L157.72,147.58 L156.16,146.99 L154.59,146.39 L153.03,145.79 L151.47,145.17 L149.90,144.54 L148.34,143.91 L146.78,143.26 L145.22,142.60 L143.65,141.93 L142.09,141.25 L140.53,140.54 L138.96,139.81 L137.40,139.07 L135.84,138.32 L134.28,137.56 L132.71,136.78 L131.15,135.98 L129.59,135.17 L128.02,134.34 L126.46,133.49 L124.90,132.63 L123.34,131.74 L121.77,130.84 L120.21,129.92 L118.65,128.97 L117.08,128.00 L115.52,127.01 L113.96,125.99 L112.40,124.94 L110.83,123.87 L109.27,122.77 L107.71,121.64 L106.14,120.47 L104.58,119.27 L103.96,118.78 L103.33,118.28 L102.71,117.78 L102.08,117.27 L101.46,116.76 L100.83,116.23 L100.21,115.70 L99.58,115.16 L98.96,114.62 L98.33,114.07 L97.71,113.51 L97.08,112.94 L96.45,112.36 L95.83,111.78 L95.20,111.19 L94.58,110.59 L93.95,109.97 L93.33,109.35 L92.70,108.72 L92.08,108.09 L91.45,107.44 L90.83,106.78 L90.20,106.10 L89.58,105.42 L88.95,104.73 L88.33,104.03 L87.70,103.31 L87.08,102.58 L86.45,101.84 L85.83,101.08 L85.20,100.31 L84.58,99.53 L83.95,98.73 L83.33,97.91 L82.70,97.09 L82.08,96.24 L81.45,95.38 L80.83,94.50 L80.20,93.60 L79.58,92.68 L78.95,91.74 L78.33,90.78 L77.70,89.80 L77.08,88.79 L76.45,87.76 L75.82,86.70 L75.20,85.61 L74.57,84.50 L73.95,83.35 L73.32,82.18 L72.70,80.97 L72.07,79.72 L71.45,78.44 L70.82,77.11 L70.20,75.75 L69.57,74.34 L68.95,72.89 L68.32,71.38 L67.70,69.83 L67.07,68.21 L66.76,67.39 L66.45,66.54 L66.14,65.68 L65.82,64.80 L65.51,63.90 L65.20,62.99 L64.88,62.05 L64.57,61.09 L64.26,60.12 L63.95,59.12 L63.63,58.10 L63.32,57.06 L63.01,55.99 L62.70,54.90 L62.38,53.78 L62.07,52.64 L61.76,51.47 L61.45,50.27 L61.13,49.04 L60.82,47.79 L60.51,46.50 L60.20,45.19 L59.88,43.84 L59.57,42.47 L59.26,41.07 L58.95,39.64 L58.63,38.18 L58.32,36.71 L58.01,35.21 L57.70,33.70 L57.38,32.18 L57.07,30.67 L56.76,29.18 L56.45,27.72 L56.13,26.31 L55.82,24.99 L55.51,23.78 L55.20,22.75 L54.88,21.95 L54.57,21.54Z" fill="#2ca02c" fill-opacity="0.15"/>
<path d="M54.57,46.10 L54.88,48.10 L55.20,50.25 L55.51,52.36 L55.82,54.42 L56.13,56.39 L56.45,58.28 L56.76,60.10 L57.07,61.84 L57.38,63.52 L57.70,65.12 L58.01,66.67 L58.32,68.15 L58.63,69.59 L58.95,70.97 L59.26,72.30 L59.57,73.59 L59.88,74.84 L60.20,76.05 L60.51,77.22 L60.82,78.35 L61.13,79.45 L61.45,80.52 L61.76,81.57 L62.07,82.58 L62.38,83.57 L62.70,84.53 L63.01,85.46 L63.32,86.38 L63.63,87.27 L63.95,88.14 L64.26,88.99 L64.57,89.83 L64.88,90.64 L65.20,91.43 L65.51,92.19 L65.82,92.94 L66.14,93.68 L66.45,94.40 L66.76,95.11 L67.07,95.80 L67.70,97.17 L68.32,98.50 L68.95,99.82 L69.57,101.11 L70.20,102.40 L70.82,103.69 L71.45,104.97 L72.07,106.23 L72.70,107.47 L73.32,108.66 L73.95,109.81 L74.57,110.91 L75.20,111.95 L75.82,112.95 L76.45,113.91 L77.08,114.86 L77.70,115.78 L78.33,116.67 L78.95,117.55 L79.58,118.40 L80.20,119.24 L80.83,120.05 L81.45,120.85 L82.08,121.63 L82.70,122.39 L83.33,123.14 L83.95,123.87 L84.58,124.59 L85.20,125.29 L85.83,125.98 L86.45,126.65 L87.08,127.31 L87.70,127.96 L88.33,128.60 L88.95,129.23 L89.58,129.84 L90.20,130.44 L90.83,131.04 L91.45,131.62 L92.08,132.20 L92.70,132.76 L93.33,133.32 L93.95,133.86 L94.58,134.40 L95.20,134.93 L95.83,135.43 L96.45,135.90 L97.08,136.34 L97.71,136.75 L98.33,137.15 L98.96,137.54 L99.58,137.92 L100.21,138.29 L100.83,138.67 L101.46,139.05 L102.08,139.44 L102.71,139.83 L103.33,140.24 L103.96,140.67 L104.58,141.11 L106.14,142.24 L107.71,143.37 L109.27,144.50 L110.83,145.61 L112.40,146.72 L113.96,147.82 L115.52,148.90 L117.08,149.96 L118.65,151.01 L120.21,152.04 L121.77,153.05 L123.34,154.04 L124.90,155.01 L126.46,155.97 L128.02,156.90 L129.59,157.81 L131.15,158.70 L132.71,159.58 L134.28,160.43 L135.84,161.26 L137.40,162.06 L138.96,162.85 L140.53,163.62 L142.09,164.37 L143.65,165.09 L145.22,165.80 L146.78,166.49 L148.34,167.16 L149.90,167.80 L151.47,168.43 L153.03,169.04 L154.59,169.64 L156.16,170.21 L157.72,170.75 L159.28,171.28 L160.84,171.78 L162.41,172.27 L163.97,172.74 L165.53,173.19 L167.10,173.63 L168.66,174.06 L170.22,174.48 L171.78,174.89 L173.35,175.29 L174.91,175.69 L176.47,176.08 L178.04,176.46 L179.60,176.84 L181.16,177.21 L182.72,177.59 L184.29,177.96 L185.85,178.33 L187.41,178.70 L188.98,179.06 L190.54,179.43 L192.10,179.80 L193.66,180.17 L195.23,180.55 L196.79,180.92 L198.35,181.30 L199.92,181.68 L201.48,182.06 L203.04,182.45 L204.60,183.79 L204.61,183.79 L206.17,185.12 L207.73,185.50 L209.29,185.86 L210.86,186.20 L212.42,186.54 L213.98,186.87 L215.55,187.20 L217.11,187.51 L218.67,187.82 L220.23,188.12 L221.80,188.41 L223.36,188.70 L224.92,188.99 L226.49,189.27 L228.05,189.55 L229.61,189.83 L231.17,190.11 L232.74,190.38 L234.30,190.66 L235.86,190.93 L237.43,191.20 L238.99,191.48 L240.55,191.75 L242.11,192.02 L243.68,192.30 L245.24,192.58 L246.80,192.86 L248.37,193.14 L249.93,193.42 L251.49,193.71 L253.05,194.00 L254.62,194.30 L256.18,194.59 L257.74,194.88 L259.31,195.17 L260.87,195.46 L262.43,195.75 L263.99,196.03 L265.56,196.32 L267.12,196.60 L268.68,196.88 L270.25,197.16 L271.81,197.43 L273.37,197.71 L274.93,197.98 L276.50,198.25 L278.06,198.52 L279.62,198.78 L281.19,199.05 L282.75,199.31 L284.31,199.58 L285.87,199.84 L287.44,200.10 L289.00,200.35 L290.56,200.61 L292.13,200.87 L293.69,201.12 L295.25,201.37 L296.81,201.62 L298.38,201.87 L299.94,202.12 L301.50,202.36 L303.07,202.61 L304.63,202.85 L306.19,203.09 L307.75,203.33 L309.32,203.58 L310.88,203.82 L312.44,204.07 L314.01,204.31 L315.57,204.56 L317.13,204.80 L318.69,205.05 L320.26,205.30 L321.82,205.54 L323.38,205.79 L324.95,206.03 L326.51,206.28 L328.07,206.52 L329.63,206.76 L331.20,207.01 L332.76,207.25 L334.32,207.49 L335.89,207.74 L337.45,207.98 L339.01,208.22 L340.57,208.46 L342.14,208.70 L343.70,208.93 L345.26,209.17 L346.83,209.41 L348.39,209.64 L349.95,209.88 L351.51,210.11 L353.08,210.34 L354.64,210.57 L354.64,240.57 L353.08,240.37 L351.51,240.17 L349.95,239.97 L348.39,239.77 L346.83,239.57 L345.26,239.36 L343.70,239.16 L342.14,238.95 L340.57,238.74 L339.01,238.53 L337.45,238.32 L335.89,238.11 L334.32,237.89 L332.76,237.68 L331.20,237.46 L329.63,237.24 L328.07,237.02 L326.51,236.80 L324.95,236.58 L323.38,236.36 L321.82,236.13 L320.26,235.90 L318.69,235.67 L317.13,235.45 L315.57,235.21 L314.01,234.98 L312.44,234.75 L310.88,234.51 L309.32,234.27 L307.75,234.03 L306.19,233.79 L304.63,233.55 L303.07,233.31 L301.50,233.06 L299.94,232.81 L298.38,232.56 L296.81,232.31 L295.25,232.06 L293.69,231.81 L292.13,231.55 L290.56,231.29 L289.00,231.03 L287.44,230.77 L285.87,230.51 L284.31,230.24 L282.75,229.97 L281.19,229.70 L279.62,229.43 L278.06,229.16 L276.50,228.88 L274.93,228.60 L273.37,228.32 L271.81,228.04 L270.25,227.76 L268.68,227.47 L267.12,227.18 L265.56,226.89 L263.99,226.60 L262.43,226.31 L260.87,226.01 L259.31,225.71 L257.74,225.41 L256.18,225.10 L254.62,224.80 L253.05,224.49 L251.49,224.17 L249.93,223.85 L248.37,223.52 L246.80,223.19 L245.24,222.85 L243.68,222.51 L242.11,222.17 L240.55,221.81 L238.99,221.46 L237.43,221.10 L235.86,220.74 L234.30,220.37 L232.74,220.00 L231.17,219.62 L229.61,219.24 L228.05,218.86 L226.49,218.47 L224.92,218.09 L223.36,217.70 L221.80,217.30 L220.23,216.91 L218.67,216.51 L217.11,216.12 L215.55,215.72 L213.98,215.32 L212.42,214.92 L210.86,214.52 L209.29,214.12 L207.73,213.73 L206.17,213.33 L204.61,212.94 L204.60,212.94 L203.04,212.54 L201.48,212.15 L199.92,211.74 L198.35,211.34 L196.79,210.92 L195.23,210.51 L193.66,210.09 L192.10,209.66 L190.54,209.23 L188.98,208.80 L187.41,208.36 L185.85,207.92 L184.29,207.47 L182.72,207.01 L181.16,206.55 L179.60,206.09 L178.04,205.61 L176.47,205.14 L174.91,204.65 L173.35,204.16 L171.78,203.67 L170.22,203.16 L168.66,202.65 L167.10,202.14 L165.53,201.61 L163.97,201.08 L162.41,200.55 L160.84,200.00 L159.28,199.45 L157.72,198.89 L156.16,198.32 L154.59,197.74 L153.03,197.15 L151.47,196.56 L149.90,195.95 L148.34,195.34 L146.78,194.72 L145.22,194.09 L143.65,193.45 L142.09,192.80 L140.53,192.13 L138.96,191.46 L137.40,190.78 L135.84,190.08 L134.28,189.37 L132.71,188.65 L131.15,187.92 L129.59,187.17 L128.02,186.40 L126.46,185.63 L124.90,184.83 L123.34,184.02 L121.77,183.18 L120.21,182.33 L118.65,181.46 L117.08,180.57 L115.52,179.66 L113.96,178.72 L112.40,177.76 L110.83,176.77 L109.27,175.75 L107.71,174.70 L106.14,173.62 L104.58,172.51 L103.96,172.05 L103.33,171.59 L102.71,171.12 L102.08,170.64 L101.46,170.15 L100.83,169.66 L100.21,169.16 L99.58,168.65 L98.96,168.14 L98.33,167.61 L97.71,167.08 L97.08,166.54 L96.45,166.00 L95.83,165.44 L95.20,164.88 L94.58,164.31 L93.95,163.73 L93.33,163.14 L92.70,162.55 L92.08,161.94 L91.45,161.33 L90.83,160.71 L90.20,160.09 L89.58,159.45 L88.95,158.81 L88.33,158.16 L87.70,157.50 L87.08,156.84 L86.45,156.18 L85.83,155.52 L85.20,154.86 L84.58,154.19 L83.95,153.52 L83.33,152.84 L82.70,152.15 L82.08,151.45 L81.45,150.75 L80.83,150.02 L80.20,149.29 L79.58,148.53 L78.95,147.76 L78.33,146.96 L77.70,146.13 L77.08,145.27 L76.45,144.37 L75.82,143.43 L75.20,142.45 L74.57,141.41 L73.95,140.31 L73.32,139.14 L72.70,137.92 L72.07,136.64 L71.45,135.31 L70.82,133.93 L70.20,132.50 L69.57,131.03 L68.95,129.53 L68.32,128.01 L67.70,126.47 L67.07,124.94 L66.76,124.17 L66.45,123.39 L66.14,122.60 L65.82,121.79 L65.51,120.96 L65.20,120.12 L64.88,119.26 L64.57,118.39 L64.26,117.49 L63.95,116.58 L63.63,115.64 L63.32,114.69 L63.01,113.71 L62.70,112.71 L62.38,111.69 L62.07,110.64 L61.76,109.56 L61.45,108.46 L61.13,107.32 L60.82,106.15 L60.51,104.95 L60.20,103.71 L59.88,102.43 L59.57,101.11 L59.26,99.75 L58.95,98.34 L58.63,96.88 L58.32,95.36 L58.01,93.80 L57.70,92.21 L57.38,90.57 L57.07,88.90 L56.76,87.18 L56.45,85.41 L56.13,83.60 L55.82,81.73 L55.51,79.81 L55.20,77.85 L54.88,75.89 L54.57,74.10Z" fill="#000000" fill-opacity="0.15"/>
<path d="M54.57,38.24 L54.88,38.45 L55.20,38.84 L55.51,39.36 L55.82,40.00 L56.13,40.74 L56.45,41.56 L56.76,42.46 L57.07,43.40 L57.38,44.40 L57.70,45.43 L58.01,46.49 L58.32,47.57 L58.63,48.66 L58.95,49.76 L59.26,50.87 L59.57,51.98 L59.88,53.09 L60.20,54.19 L60.51,55.28 L60.82,56.36 L61.13,57.43 L61.45,58.49 L61.76,59.54 L62.07,60.57 L62.38,61.59 L62.70,62.60 L63.01,63.59 L63.32,64.56 L63.63,65.53 L63.95,66.47 L64.26,67.41 L64.57,68.33 L64.88,69.24 L65.20,70.13 L65.51,71.01 L65.82,71.87 L66.14,72.72 L66.45,73.55 L66.76,74.38 L67.07,75.18 L67.70,76.76 L68.32,78.28 L68.95,79.75 L69.57,81.18 L70.20,82.55 L70.82,83.88 L71.45,85.17 L72.07,86.42 L72.70,87.64 L73.32,88.82 L73.95,89.98 L74.57,91.10 L75.20,92.19 L75.82,93.25 L76.45,94.29 L77.08,95.30 L77.70,96.29 L78.33,97.25 L78.95,98.19 L79.58,99.11 L80.20,100.01 L80.83,100.88 L81.45,101.74 L82.08,102.58 L82.70,103.40 L83.33,104.20 L83.95,104.99 L84.58,105.76 L85.20,106.51 L85.83,107.25 L86.45,107.98 L87.08,108.69 L87.70,109.39 L88.33,110.07 L88.95,110.75 L89.58,111.41 L90.20,112.06 L90.83,112.70 L91.45,113.33 L92.08,113.96 L92.70,114.57 L93.33,115.17 L93.95,115.76 L94.58,116.34 L95.20,116.92 L95.83,117.48 L96.45,118.04 L97.08,118.58 L97.71,119.12 L98.33,119.65 L98.96,120.17 L99.58,120.68 L100.21,121.19 L100.83,121.68 L101.46,122.17 L102.08,122.65 L102.71,123.13 L103.33,123.59 L103.96,124.05 L104.58,124.50 L106.14,125.60 L107.71,126.67 L109.27,127.71 L110.83,128.73 L112.40,129.71 L113.96,130.67 L115.52,131.61 L117.08,132.52 L118.65,133.41 L120.21,134.28 L121.77,135.13 L123.34,135.95 L124.90,136.77 L126.46,137.56 L128.02,138.34 L129.59,139.10 L131.15,139.84 L132.71,140.58 L134.28,141.29 L135.84,141.99 L137.40,142.68 L138.96,143.36 L140.53,144.03 L142.09,144.68 L143.65,145.30 L145.22,145.91 L146.78,146.51 L148.34,147.10 L149.90,147.68 L151.47,148.25 L153.03,148.81 L154.59,149.36 L156.16,149.91 L157.72,150.44 L159.28,150.97 L160.84,151.48 L162.41,151.99 L163.97,152.50 L165.53,152.99 L167.10,153.48 L168.66,153.96 L170.22,154.44 L171.78,154.90 L173.35,155.37 L174.91,155.82 L176.47,156.27 L178.04,156.71 L179.60,157.15 L181.16,157.58 L182.72,158.01 L184.29,158.43 L185.85,158.85 L187.41,159.26 L188.98,159.66 L190.54,160.06 L192.10,160.46 L193.66,160.85 L195.23,161.24 L196.79,161.62 L198.35,162.00 L199.92,162.37 L201.48,162.74 L203.04,163.10 L204.60,163.47 L204.61,164.96 L206.17,165.34 L207.73,165.71 L209.29,166.09 L210.86,166.46 L212.42,166.82 L213.98,167.18 L215.55,167.54 L217.11,167.90 L218.67,168.25 L220.23,168.60 L221.80,168.95 L223.36,169.29 L224.92,169.63 L226.49,169.96 L228.05,170.30 L229.61,170.63 L231.17,170.95 L232.74,171.28 L234.30,171.60 L235.86,171.92 L237.43,172.24 L238.99,172.55 L240.55,172.86 L242.11,173.17 L243.68,173.48 L245.24,173.78 L246.80,174.08 L248.37,174.38 L249.93,174.68 L251.49,174.97 L253.05,175.26 L254.62,175.55 L256.18,175.84 L257.74,176.12 L259.31,176.41 L260.87,176.69 L262.43,176.97 L263.99,177.24 L265.56,177.52 L267.12,177.79 L268.68,178.06 L270.25,178.33 L271.81,178.60 L273.37,178.86 L274.93,179.12 L276.50,179.39 L278.06,179.64 L279.62,179.90 L281.19,180.16 L282.75,180.41 L284.31,180.66 L285.87,180.92 L287.44,181.16 L289.00,181.41 L290.56,181.66 L292.13,181.90 L293.69,182.15 L295.25,182.39 L296.81,182.63 L298.38,182.86 L299.94,183.10 L301.50,183.34 L303.07,183.57 L304.63,183.80 L306.19,184.03 L307.75,184.26 L309.32,184.49 L310.88,184.72 L312.44,184.94 L314.01,185.17 L315.57,185.39 L317.13,185.61 L318.69,185.83 L320.26,186.05 L321.82,186.27 L323.38,186.48 L324.95,186.70 L326.51,186.91 L328.07,187.12 L329.63,187.34 L331.20,187.55 L332.76,187.75 L334.32,187.96 L335.89,188.17 L337.45,188.38 L339.01,188.58 L340.57,188.78 L342.14,188.99 L343.70,189.19 L345.26,189.39 L346.83,189.59 L348.39,189.78 L349.95,189.98 L351.51,190.18 L353.08,190.37 L354.64,190.57 L354.64,217.57 L353.08,217.33 L351.51,217.09 L349.95,216.85 L348.39,216.61 L346.83,216.37 L345.26,216.13 L343.70,215.89 L342.14,215.65 L340.57,215.40 L339.01,215.16 L337.45,214.91 L335.89,214.67 L334.32,214.42 L332.76,214.17 L331.20,213.93 L329.63,213.68 L328.07,213.43 L326.51,213.18 L324.95,212.93 L323.38,212.68 L321.82,212.43 L320.26,212.18 L318.69,211.93 L317.13,211.68 L315.57,211.44 L314.01,211.19 L312.44,210.94 L310.88,210.69 L309.32,210.44 L307.75,210.19 L306.19,209.95 L304.63,209.70 L303.07,209.46 L301.50,209.21 L299.94,208.96 L298.38,208.71 L296.81,208.46 L295.25,208.20 L293.69,207.95 L292.13,207.69 L290.56,207.44 L289.00,207.18 L287.44,206.92 L285.87,206.66 L284.31,206.39 L282.75,206.13 L281.19,205.87 L279.62,205.60 L278.06,205.33 L276.50,205.06 L274.93,204.79 L273.37,204.52 L271.81,204.25 L270.25,203.97 L268.68,203.69 L267.12,203.42 L265.56,203.14 L263.99,202.86 L262.43,202.58 L260.87,202.29 L259.31,202.01 L257.74,201.73 L256.18,201.44 L254.62,201.15 L253.05,200.86 L251.49,200.57 L249.93,200.28 L248.37,199.98 L246.80,199.69 L245.24,199.39 L243.68,199.09 L242.11,198.78 L240.55,198.48 L238.99,198.17 L237.43,197.86 L235.86,197.55 L234.30,197.23 L232.74,196.92 L231.17,196.60 L229.61,196.27 L228.05,195.95 L226.49,195.62 L224.92,195.29 L223.36,194.95 L221.80,194.61 L220.23,194.27 L218.67,193.93 L217.11,193.58 L215.55,193.23 L213.98,192.87 L212.42,192.51 L210.86,192.15 L209.29,191.78 L207.73,191.41 L206.17,191.04 L204.61,190.31 L204.60,188.82 L203.04,188.05 L201.48,187.63 L199.92,187.21 L198.35,186.79 L196.79,186.37 L195.23,185.95 L193.66,185.52 L192.10,185.09 L190.54,184.67 L188.98,184.24 L187.41,183.80 L185.85,183.37 L184.29,182.93 L182.72,182.49 L181.16,182.05 L179.60,181.60 L178.04,181.15 L176.47,180.69 L174.91,180.23 L173.35,179.77 L171.78,179.29 L170.22,178.82 L168.66,178.33 L167.10,177.84 L165.53,177.35 L163.97,176.84 L162.41,176.33 L160.84,175.81 L159.28,175.28 L157.72,174.73 L156.16,174.18 L154.59,173.61 L153.03,173.04 L151.47,172.45 L149.90,171.85 L148.34,171.24 L146.78,170.62 L145.22,169.99 L143.65,169.35 L142.09,168.70 L140.53,168.01 L138.96,167.31 L137.40,166.60 L135.84,165.87 L134.28,165.14 L132.71,164.38 L131.15,163.62 L129.59,162.83 L128.02,162.03 L126.46,161.22 L124.90,160.39 L123.34,159.54 L121.77,158.68 L120.21,157.79 L118.65,156.89 L117.08,155.97 L115.52,155.03 L113.96,154.06 L112.40,153.08 L110.83,152.07 L109.27,151.04 L107.71,149.99 L106.14,148.91 L104.58,147.80 L103.96,147.36 L103.33,146.92 L102.71,146.48 L102.08,146.05 L101.46,145.61 L100.83,145.19 L100.21,144.76 L99.58,144.33 L98.96,143.90 L98.33,143.48 L97.71,143.05 L97.08,142.62 L96.45,142.18 L95.83,141.74 L95.20,141.30 L94.58,140.84 L93.95,140.38 L93.33,139.91 L92.70,139.43 L92.08,138.93 L91.45,138.42 L90.83,137.89 L90.20,137.34 L89.58,136.77 L88.95,136.17 L88.33,135.55 L87.70,134.90 L87.08,134.23 L86.45,133.54 L85.83,132.83 L85.20,132.11 L84.58,131.37 L83.95,130.62 L83.33,129.84 L82.70,129.05 L82.08,128.23 L81.45,127.40 L80.83,126.54 L80.20,125.67 L79.58,124.78 L78.95,123.86 L78.33,122.92 L77.70,121.96 L77.08,120.98 L76.45,119.97 L75.82,118.95 L75.20,117.89 L74.57,116.82 L73.95,115.72 L73.32,114.60 L72.70,113.45 L72.07,112.29 L71.45,111.09 L70.82,109.88 L70.20,108.64 L69.57,107.38 L68.95,106.09 L68.32,104.76 L67.70,103.40 L67.07,102.00 L66.76,101.28 L66.45,100.56 L66.14,99.81 L65.82,99.06 L65.51,98.29 L65.20,97.51 L64.88,96.72 L64.57,95.91 L64.26,95.08 L63.95,94.23 L63.63,93.37 L63.32,92.48 L63.01,91.57 L62.70,90.65 L62.38,89.70 L62.07,88.74 L61.76,87.75 L61.45,86.75 L61.13,85.72 L60.82,84.68 L60.51,83.62 L60.20,82.55 L59.88,81.45 L59.57,80.35 L59.26,79.23 L58.95,78.10 L58.63,76.96 L58.32,75.82 L58.01,74.69 L57.70,73.55 L57.38,72.43 L57.07,71.33 L56.76,70.25 L56.45,69.21 L56.13,68.21 L55.82,67.26 L55.51,66.38 L55.20,65.57 L54.88,64.85 L54.57,64.24Z" fill="#000000" fill-opacity="0.15"/>
</g>
<path d="M54.57,21.54V245.9M104.58,21.54V245.9M154.59,21.54V245.9M204.60,21.54V245.9M254.62,21.54V245.9M304.63,21.54V245.9M354.64,21.54V245.9M54.57,21.54H354.64M54.57,29.43H354.64M54.57,38.25H354.64M54.57,48.25H354.64M54.57,59.80H354.64M54.57,73.45H354.64M54.57,90.16H354.64M54.57,111.71H354.64M54.57,142.08H354.64M54.57,193.99H354.64" fill="none" stroke="#b0b0b0" stroke-width="0.85" stroke-dasharray="2.6 1.1"/>
<g clip-path="url(#ax)" fill="none" stroke-width="1.5">
<path d="M54.57,21.54 L54.88,23.16 L55.20,25.45 L55.51,27.95 L55.82,30.51 L56.13,33.04 L56.45,35.52 L56.76,37.91 L57.07,40.22 L57.38,42.44 L57.70,44.57 L58.01,46.61 L58.32,48.57 L58.63,50.44 L58.95,52.24 L59.26,53.98 L59.57,55.64 L59.88,57.24 L60.20,58.79 L60.51,60.28 L60.82,61.71 L61.13,63.10 L61.45,64.45 L61.76,65.75 L62.07,67.01 L62.38,68.23 L62.70,69.41 L63.01,70.56 L63.32,71.68 L63.63,72.77 L63.95,73.82 L64.26,74.85 L64.57,75.86 L64.88,76.84 L65.20,77.79 L65.51,78.72 L65.82,79.63 L66.14,80.52 L66.45,81.39 L66.76,82.24 L67.07,83.07 L67.70,84.68 L68.32,86.23 L68.95,87.71 L69.57,89.14 L70.20,90.52 L70.82,91.85 L71.45,93.14 L72.07,94.38 L72.70,95.58 L73.32,96.75 L73.95,97.88 L74.57,98.98 L75.20,100.04 L75.82,101.08 L76.45,102.09 L77.08,103.08 L77.70,104.03 L78.33,104.97 L78.95,105.88 L79.58,106.77 L80.20,107.64 L80.83,108.49 L81.45,109.32 L82.08,110.13 L82.70,110.93 L83.33,111.71 L83.95,112.47 L84.58,113.22 L85.20,113.95 L85.83,114.67 L86.45,115.38 L87.08,116.07 L87.70,116.75 L88.33,117.42 L88.95,118.07 L89.58,118.72 L90.20,119.35 L90.83,119.97 L91.45,120.59 L92.08,121.19 L92.70,121.78 L93.33,122.37 L93.95,122.94 L94.58,123.51 L95.20,124.07 L95.83,124.62 L96.45,125.16 L97.08,125.69 L97.71,126.22 L98.33,126.74 L98.96,127.25 L99.58,127.75 L100.21,128.25 L100.83,128.74 L101.46,129.23 L102.08,129.71 L102.71,130.18 L103.33,130.64 L103.96,131.11 L104.58,131.56 L106.14,132.67 L107.71,133.76 L109.27,134.81 L110.83,135.83 L112.40,136.82 L113.96,137.79 L115.52,138.74 L117.08,139.66 L118.65,140.56 L120.21,141.43 L121.77,142.29 L123.34,143.13 L124.90,143.95 L126.46,144.75 L128.02,145.53 L129.59,146.30 L131.15,147.05 L132.71,147.79 L134.28,148.51 L135.84,149.22 L137.40,149.92 L138.96,150.60 L140.53,151.27 L142.09,151.93 L143.65,152.57 L145.22,153.21 L146.78,153.84 L148.34,154.45 L149.90,155.06 L151.47,155.65 L153.03,156.24 L154.59,156.81 L156.16,157.37 L157.72,157.92 L159.28,158.47 L160.84,159.00 L162.41,159.53 L163.97,160.05 L165.53,160.56 L167.10,161.06 L168.66,161.56 L170.22,162.05 L171.78,162.54 L173.35,163.01 L174.91,163.49 L176.47,163.95 L178.04,164.41 L179.60,164.86 L181.16,165.31 L182.72,165.75 L184.29,166.19 L185.85,166.62 L187.41,167.05 L188.98,167.47 L190.54,167.89 L192.10,168.30 L193.66,168.71 L195.23,169.11 L196.79,169.51 L198.35,169.90 L199.92,170.29 L201.48,170.67 L203.04,171.05 L204.60,171.43 L204.61,171.93 L206.17,172.34 L207.73,172.74 L209.29,173.14 L210.86,173.53 L212.42,173.92 L213.98,174.31 L215.55,174.69 L217.11,175.07 L218.67,175.45 L220.23,175.82 L221.80,176.19 L223.36,176.56 L224.92,176.92 L226.49,177.28 L228.05,177.64 L229.61,177.99 L231.17,178.35 L232.74,178.69 L234.30,179.04 L235.86,179.38 L237.43,179.72 L238.99,180.06 L240.55,180.40 L242.11,180.73 L243.68,181.06 L245.24,181.39 L246.80,181.71 L248.37,182.04 L249.93,182.36 L251.49,182.67 L253.05,182.99 L254.62,183.30 L256.18,183.59 L257.74,183.87 L259.31,184.16 L260.87,184.43 L262.43,184.71 L263.99,184.99 L265.56,185.26 L267.12,185.53 L268.68,185.80 L270.25,186.07 L271.81,186.34 L273.37,186.60 L274.93,186.86 L276.50,187.12 L278.06,187.38 L279.62,187.64 L281.19,187.89 L282.75,188.14 L284.31,188.39 L285.87,188.64 L287.44,188.89 L289.00,189.14 L290.56,189.38 L292.13,189.62 L293.69,189.87 L295.25,190.11 L296.81,190.34 L298.38,190.58 L299.94,190.82 L301.50,191.05 L303.07,191.28 L304.63,191.51 L306.19,191.74 L307.75,191.97 L309.32,192.20 L310.88,192.42 L312.44,192.64 L314.01,192.87 L315.57,193.09 L317.13,193.31 L318.69,193.53 L320.26,193.74 L321.82,193.96 L323.38,194.17 L324.95,194.39 L326.51,194.60 L328.07,194.81 L329.63,195.02 L331.20,195.23 L332.76,195.44 L334.32,195.64 L335.89,195.85 L337.45,196.05 L339.01,196.25 L340.57,196.46 L342.14,196.66 L343.70,196.86 L345.26,197.06 L346.83,197.25 L348.39,197.45 L349.95,197.64 L351.51,197.84 L353.08,198.03 L354.64,198.22" stroke="#1f77b4"/>
<path d="M54.57,21.54 L54.88,22.23 L55.20,23.27 L55.51,24.47 L55.82,25.75 L56.13,27.10 L56.45,28.47 L56.76,29.85 L57.07,31.23 L57.38,32.61 L57.70,33.97 L58.01,35.32 L58.32,36.65 L58.63,37.95 L58.95,39.23 L59.26,40.48 L59.57,41.70 L59.88,42.91 L60.20,44.08 L60.51,45.23 L60.82,46.36 L61.13,47.46 L61.45,48.53 L61.76,49.59 L62.07,50.62 L62.38,51.63 L62.70,52.61 L63.01,53.58 L63.32,54.53 L63.63,55.45 L63.95,56.36 L64.26,57.25 L64.57,58.13 L64.88,58.98 L65.20,59.82 L65.51,60.64 L65.82,61.45 L66.14,62.24 L66.45,63.02 L66.76,63.79 L67.07,64.54 L67.70,66.00 L68.32,67.41 L68.95,68.78 L69.57,70.10 L70.20,71.39 L70.82,72.63 L71.45,73.84 L72.07,75.01 L72.70,76.15 L73.32,77.26 L73.95,78.33 L74.57,79.38 L75.20,80.41 L75.82,81.41 L76.45,82.38 L77.08,83.33 L77.70,84.26 L78.33,85.16 L78.95,86.05 L79.58,86.92 L80.20,87.77 L80.83,88.60 L81.45,89.41 L82.08,90.21 L82.70,90.99 L83.33,91.76 L83.95,92.51 L84.58,93.25 L85.20,93.97 L85.83,94.68 L86.45,95.38 L87.08,96.07 L87.70,96.74 L88.33,97.41 L88.95,98.06 L89.58,98.70 L90.20,99.33 L90.83,99.95 L91.45,100.56 L92.08,101.16 L92.70,101.75 L93.33,102.34 L93.95,102.91 L94.58,103.48 L95.20,104.04 L95.83,104.59 L96.45,105.13 L97.08,105.67 L97.71,106.19 L98.33,106.72 L98.96,107.23 L99.58,107.74 L100.21,108.24 L100.83,108.73 L101.46,109.22 L102.08,109.70 L102.71,110.18 L103.33,110.65 L103.96,111.11 L104.58,111.57 L106.14,112.70 L107.71,113.79 L109.27,114.85 L110.83,115.89 L112.40,116.89 L113.96,117.88 L115.52,118.83 L117.08,119.77 L118.65,120.68 L120.21,121.57 L121.77,122.44 L123.34,123.29 L124.90,124.13 L126.46,124.94 L128.02,125.74 L129.59,126.52 L131.15,127.29 L132.71,128.04 L134.28,128.78 L135.84,129.50 L137.40,130.21 L138.96,130.91 L140.53,131.59 L142.09,132.27 L143.65,132.91 L145.22,133.55 L146.78,134.17 L148.34,134.79 L149.90,135.39 L151.47,135.99 L153.03,136.57 L154.59,137.15 L156.16,137.71 L157.72,138.27 L159.28,138.82 L160.84,139.36 L162.41,139.90 L163.97,140.42 L165.53,140.94 L167.10,141.45 L168.66,141.96 L170.22,142.46 L171.78,142.95 L173.35,143.43 L174.91,143.91 L176.47,144.38 L178.04,144.84 L179.60,145.30 L181.16,145.76 L182.72,146.20 L184.29,146.65 L185.85,147.08 L187.41,147.51 L188.98,147.94 L190.54,148.36 L192.10,148.78 L193.66,149.19 L195.23,149.60 L196.79,150.00 L198.35,150.40 L199.92,150.79 L201.48,151.18 L203.04,151.57 L204.60,151.95 L204.61,152.78 L206.17,153.17 L207.73,153.56 L209.29,153.94 L210.86,154.32 L212.42,154.70 L213.98,155.07 L215.55,155.44 L217.11,155.81 L218.67,156.17 L220.23,156.53 L221.80,156.89 L223.36,157.24 L224.92,157.59 L226.49,157.94 L228.05,158.28 L229.61,158.62 L231.17,158.96 L232.74,159.29 L234.30,159.62 L235.86,159.95 L237.43,160.28 L238.99,160.60 L240.55,160.92 L242.11,161.24 L243.68,161.56 L245.24,161.87 L246.80,162.18 L248.37,162.49 L249.93,162.79 L251.49,163.10 L253.05,163.40 L254.62,163.69 L256.18,163.99 L257.74,164.28 L259.31,164.58 L260.87,164.86 L262.43,165.15 L263.99,165.44 L265.56,165.72 L267.12,166.00 L268.68,166.28 L270.25,166.56 L271.81,166.83 L273.37,167.10 L274.93,167.37 L276.50,167.64 L278.06,167.91 L279.62,168.18 L281.19,168.44 L282.75,168.70 L284.31,168.96 L285.87,169.22 L287.44,169.48 L289.00,169.73 L290.56,169.98 L292.13,170.24 L293.69,170.49 L295.25,170.73 L296.81,170.98 L298.38,171.23 L299.94,171.47 L301.50,171.71 L303.07,171.95 L304.63,172.19 L306.19,172.43 L307.75,172.67 L309.32,172.90 L310.88,173.13 L312.44,173.37 L314.01,173.60 L315.57,173.83 L317.13,174.05 L318.69,174.28 L320.26,174.50 L321.82,174.73 L323.38,174.95 L324.95,175.17 L326.51,175.39 L328.07,175.61 L329.63,175.83 L331.20,176.05 L332.76,176.26 L334.32,176.47 L335.89,176.69 L337.45,176.90 L339.01,177.11 L340.57,177.32 L342.14,177.53 L343.70,177.73 L345.26,177.94 L346.83,178.14 L348.39,178.35 L349.95,178.55 L351.51,178.75 L353.08,178.95 L354.64,179.15" stroke="#1f77b4" stroke-dasharray="4.6 1.95" stroke-width="1.6"/>
<path d="M54.57,21.54 L54.88,21.82 L55.20,22.52 L55.51,23.56 L55.82,24.86 L56.13,26.36 L56.45,28.00 L56.76,29.74 L57.07,31.53 L57.38,33.34 L57.70,35.16 L58.01,36.97 L58.32,38.75 L58.63,40.49 L58.95,42.20 L59.26,43.87 L59.57,45.49 L59.88,47.06 L60.20,48.60 L60.51,50.08 L60.82,51.52 L61.13,52.92 L61.45,54.28 L61.76,55.60 L62.07,56.88 L62.38,58.13 L62.70,59.34 L63.01,60.51 L63.32,61.66 L63.63,62.77 L63.95,63.86 L64.26,64.91 L64.57,65.94 L64.88,66.95 L65.20,67.93 L65.51,68.88 L65.82,69.81 L66.14,70.73 L66.45,71.62 L66.76,72.49 L67.07,73.34 L67.70,74.99 L68.32,76.58 L68.95,78.10 L69.57,79.56 L70.20,80.97 L70.82,82.32 L71.45,83.63 L72.07,84.90 L72.70,86.13 L73.32,87.31 L73.95,88.47 L74.57,89.58 L75.20,90.67 L75.82,91.72 L76.45,92.74 L77.08,93.74 L77.70,94.71 L78.33,95.66 L78.95,96.58 L79.58,97.48 L80.20,98.36 L80.83,99.22 L81.45,100.06 L82.08,100.88 L82.70,101.68 L83.33,102.46 L83.95,103.23 L84.58,103.99 L85.20,104.72 L85.83,105.45 L86.45,106.16 L87.08,106.85 L87.70,107.54 L88.33,108.21 L88.95,108.87 L89.58,109.51 L90.20,110.15 L90.83,110.77 L91.45,111.39 L92.08,111.99 L92.70,112.59 L93.33,113.17 L93.95,113.75 L94.58,114.32 L95.20,114.87 L95.83,115.42 L96.45,115.97 L97.08,116.50 L97.71,117.03 L98.33,117.55 L98.96,118.06 L99.58,118.56 L100.21,119.06 L100.83,119.55 L101.46,120.03 L102.08,120.51 L102.71,120.98 L103.33,121.45 L103.96,121.91 L104.58,122.36 L106.14,123.48 L107.71,124.56 L109.27,125.60 L110.83,126.62 L112.40,127.61 L113.96,128.58 L115.52,129.52 L117.08,130.43 L118.65,131.33 L120.21,132.20 L121.77,133.05 L123.34,133.88 L124.90,134.70 L126.46,135.49 L128.02,136.27 L129.59,137.04 L131.15,137.78 L132.71,138.52 L134.28,139.23 L135.84,139.94 L137.40,140.63 L138.96,141.31 L140.53,141.97 L142.09,142.62 L143.65,143.27 L145.22,143.90 L146.78,144.52 L148.34,145.13 L149.90,145.73 L151.47,146.32 L153.03,146.90 L154.59,147.47 L156.16,148.02 L157.72,148.57 L159.28,149.11 L160.84,149.64 L162.41,150.16 L163.97,150.67 L165.53,151.18 L167.10,151.68 L168.66,152.17 L170.22,152.66 L171.78,153.14 L173.35,153.61 L174.91,154.08 L176.47,154.54 L178.04,154.99 L179.60,155.44 L181.16,155.88 L182.72,156.32 L184.29,156.75 L185.85,157.18 L187.41,157.60 L188.98,158.02 L190.54,158.43 L192.10,158.84 L193.66,159.24 L195.23,159.64 L196.79,160.03 L198.35,160.42 L199.92,160.81 L201.48,161.19 L203.04,161.56 L204.60,161.93 L204.61,162.43 L206.17,162.83 L207.73,163.21 L209.29,163.60 L210.86,163.98 L212.42,164.36 L213.98,164.73 L215.55,165.10 L217.11,165.47 L218.67,165.83 L220.23,166.19 L221.80,166.55 L223.36,166.90 L224.92,167.25 L226.49,167.60 L228.05,167.94 L229.61,168.28 L231.17,168.62 L232.74,168.96 L234.30,169.29 L235.86,169.62 L237.43,169.95 L238.99,170.27 L240.55,170.59 L242.11,170.91 L243.68,171.23 L245.24,171.54 L246.80,171.86 L248.37,172.17 L249.93,172.47 L251.49,172.78 L253.05,173.08 L254.62,173.38 L256.18,173.66 L257.74,173.94 L259.31,174.22 L260.87,174.50 L262.43,174.77 L263.99,175.05 L265.56,175.32 L267.12,175.58 L268.68,175.85 L270.25,176.11 L271.81,176.38 L273.37,176.64 L274.93,176.90 L276.50,177.15 L278.06,177.41 L279.62,177.66 L281.19,177.91 L282.75,178.16 L284.31,178.41 L285.87,178.66 L287.44,178.90 L289.00,179.14 L290.56,179.38 L292.13,179.62 L293.69,179.86 L295.25,180.10 L296.81,180.33 L298.38,180.57 L299.94,180.80 L301.50,181.03 L303.07,181.26 L304.63,181.49 L306.19,181.71 L307.75,181.94 L309.32,182.16 L310.88,182.38 L312.44,182.61 L314.01,182.82 L315.57,183.04 L317.13,183.26 L318.69,183.48 L320.26,183.69 L321.82,183.90 L323.38,184.11 L324.95,184.33 L326.51,184.53 L328.07,184.74 L329.63,184.95 L331.20,185.16 L332.76,185.36 L334.32,185.56 L335.89,185.77 L337.45,185.97 L339.01,186.17 L340.57,186.37 L342.14,186.56 L343.70,186.76 L345.26,186.96 L346.83,187.15 L348.39,187.35 L349.95,187.54 L351.51,187.73 L353.08,187.92 L354.64,188.11" stroke="#ff7f0e"/>
<path d="M54.57,21.54 L54.88,21.64 L55.20,21.88 L55.51,22.23 L55.82,22.66 L56.13,23.17 L56.45,23.74 L56.76,24.37 L57.07,25.05 L57.38,25.77 L57.70,26.53 L58.01,27.31 L58.32,28.12 L58.63,28.94 L58.95,29.78 L59.26,30.63 L59.57,31.49 L59.88,32.35 L60.20,33.22 L60.51,34.08 L60.82,34.95 L61.13,35.81 L61.45,36.67 L61.76,37.52 L62.07,38.36 L62.38,39.20 L62.70,40.02 L63.01,40.84 L63.32,41.66 L63.63,42.46 L63.95,43.25 L64.26,44.03 L64.57,44.80 L64.88,45.57 L65.20,46.32 L65.51,47.06 L65.82,47.79 L66.14,48.51 L66.45,49.23 L66.76,49.93 L67.07,50.62 L67.70,51.98 L68.32,53.30 L68.95,54.59 L69.57,55.83 L70.20,57.05 L70.82,58.23 L71.45,59.39 L72.07,60.51 L72.70,61.61 L73.32,62.67 L73.95,63.71 L74.57,64.73 L75.20,65.72 L75.82,66.69 L76.45,67.64 L77.08,68.56 L77.70,69.47 L78.33,70.35 L78.95,71.22 L79.58,72.06 L80.20,72.89 L80.83,73.71 L81.45,74.50 L82.08,75.29 L82.70,76.05 L83.33,76.80 L83.95,77.54 L84.58,78.26 L85.20,78.97 L85.83,79.67 L86.45,80.36 L87.08,81.03 L87.70,81.70 L88.33,82.35 L88.95,82.99 L89.58,83.62 L90.20,84.24 L90.83,84.85 L91.45,85.45 L92.08,86.04 L92.70,86.62 L93.33,87.20 L93.95,87.76 L94.58,88.32 L95.20,88.87 L95.83,89.41 L96.45,89.94 L97.08,90.47 L97.71,90.99 L98.33,91.50 L98.96,92.01 L99.58,92.51 L100.21,93.00 L100.83,93.48 L101.46,93.97 L102.08,94.44 L102.71,94.91 L103.33,95.37 L103.96,95.83 L104.58,96.28 L106.14,97.38 L107.71,98.46 L109.27,99.50 L110.83,100.52 L112.40,101.51 L113.96,102.48 L115.52,103.42 L117.08,104.33 L118.65,105.23 L120.21,106.10 L121.77,106.96 L123.34,107.80 L124.90,108.61 L126.46,109.41 L128.02,110.20 L129.59,110.96 L131.15,111.72 L132.71,112.45 L134.28,113.18 L135.84,113.89 L137.40,114.58 L138.96,115.27 L140.53,115.94 L142.09,116.60 L143.65,117.23 L145.22,117.86 L146.78,118.48 L148.34,119.08 L149.90,119.68 L151.47,120.27 L153.03,120.84 L154.59,121.41 L156.16,121.97 L157.72,122.52 L159.28,123.06 L160.84,123.60 L162.41,124.12 L163.97,124.64 L165.53,125.15 L167.10,125.66 L168.66,126.15 L170.22,126.64 L171.78,127.13 L173.35,127.60 L174.91,128.07 L176.47,128.54 L178.04,129.00 L179.60,129.45 L181.16,129.90 L182.72,130.34 L184.29,130.78 L185.85,131.21 L187.41,131.63 L188.98,132.05 L190.54,132.47 L192.10,132.88 L193.66,133.29 L195.23,133.69 L196.79,134.08 L198.35,134.48 L199.92,134.87 L201.48,135.25 L203.04,135.63 L204.60,136.01 L204.61,136.71 L206.17,137.09 L207.73,137.47 L209.29,137.84 L210.86,138.22 L212.42,138.59 L213.98,138.95 L215.55,139.31 L217.11,139.67 L218.67,140.02 L220.23,140.38 L221.80,140.72 L223.36,141.07 L224.92,141.41 L226.49,141.75 L228.05,142.08 L229.61,142.42 L231.17,142.75 L232.74,143.07 L234.30,143.40 L235.86,143.72 L237.43,144.04 L238.99,144.35 L240.55,144.66 L242.11,144.98 L243.68,145.28 L245.24,145.59 L246.80,145.89 L248.37,146.19 L249.93,146.49 L251.49,146.79 L253.05,147.08 L254.62,147.37 L256.18,147.66 L257.74,147.95 L259.31,148.23 L260.87,148.51 L262.43,148.79 L263.99,149.07 L265.56,149.35 L267.12,149.62 L268.68,149.89 L270.25,150.16 L271.81,150.43 L273.37,150.70 L274.93,150.96 L276.50,151.23 L278.06,151.49 L279.62,151.75 L281.19,152.00 L282.75,152.26 L284.31,152.51 L285.87,152.77 L287.44,153.02 L289.00,153.26 L290.56,153.51 L292.13,153.76 L293.69,154.00 L295.25,154.24 L296.81,154.48 L298.38,154.72 L299.94,154.96 L301.50,155.20 L303.07,155.43 L304.63,155.67 L306.19,155.90 L307.75,156.13 L309.32,156.36 L310.88,156.58 L312.44,156.81 L314.01,157.04 L315.57,157.26 L317.13,157.48 L318.69,157.70 L320.26,157.92 L321.82,158.14 L323.38,158.36 L324.95,158.57 L326.51,158.79 L328.07,159.00 L329.63,159.21 L331.20,159.42 L332.76,159.63 L334.32,159.84 L335.89,160.05 L337.45,160.26 L339.01,160.46 L340.57,160.67 L342.14,160.87 L343.70,161.07 L345.26,161.27 L346.83,161.47 L348.39,161.67 L349.95,161.87 L351.51,162.07 L353.08,162.26 L354.64,162.46" stroke="#ff7f0e" stroke-dasharray="4.6 1.95" stroke-width="1.6"/>
<path d="M54.57,21.54 L54.88,21.87 L55.20,22.73 L55.51,23.98 L55.82,25.55 L56.13,27.33 L56.45,29.26 L56.76,31.28 L57.07,33.33 L57.38,35.39 L57.70,37.43 L58.01,39.44 L58.32,41.40 L58.63,43.30 L58.95,45.15 L59.26,46.95 L59.57,48.68 L59.88,50.36 L60.20,51.98 L60.51,53.55 L60.82,55.07 L61.13,56.53 L61.45,57.95 L61.76,59.33 L62.07,60.66 L62.38,61.95 L62.70,63.20 L63.01,64.41 L63.32,65.59 L63.63,66.74 L63.95,67.85 L64.26,68.94 L64.57,69.99 L64.88,71.02 L65.20,72.02 L65.51,72.99 L65.82,73.95 L66.14,74.88 L66.45,75.78 L66.76,76.67 L67.07,77.54 L67.70,79.21 L68.32,80.82 L68.95,82.36 L69.57,83.84 L70.20,85.26 L70.82,86.64 L71.45,87.96 L72.07,89.24 L72.70,90.48 L73.32,91.67 L73.95,92.83 L74.57,93.96 L75.20,95.05 L75.82,96.11 L76.45,97.14 L77.08,98.14 L77.70,99.12 L78.33,100.07 L78.95,101.00 L79.58,101.90 L80.20,102.79 L80.83,103.65 L81.45,104.49 L82.08,105.31 L82.70,106.12 L83.33,106.91 L83.95,107.68 L84.58,108.43 L85.20,109.18 L85.83,109.90 L86.45,110.61 L87.08,111.31 L87.70,112.00 L88.33,112.67 L88.95,113.33 L89.58,113.98 L90.20,114.62 L90.83,115.24 L91.45,115.86 L92.08,116.46 L92.70,117.06 L93.33,117.65 L93.95,118.22 L94.58,118.79 L95.20,119.35 L95.83,119.90 L96.45,120.45 L97.08,120.98 L97.71,121.51 L98.33,122.03 L98.96,122.54 L99.58,123.05 L100.21,123.54 L100.83,124.04 L101.46,124.52 L102.08,125.00 L102.71,125.47 L103.33,125.94 L103.96,126.40 L104.58,126.85 L106.14,127.97 L107.71,129.05 L109.27,130.10 L110.83,131.12 L112.40,132.11 L113.96,133.07 L115.52,134.01 L117.08,134.93 L118.65,135.83 L120.21,136.70 L121.77,137.55 L123.34,138.38 L124.90,139.20 L126.46,140.00 L128.02,140.78 L129.59,141.54 L131.15,142.29 L132.71,143.02 L134.28,143.74 L135.84,144.44 L137.40,145.13 L138.96,145.81 L140.53,146.47 L142.09,147.13 L143.65,147.77 L145.22,148.40 L146.78,149.02 L148.34,149.63 L149.90,150.23 L151.47,150.82 L153.03,151.40 L154.59,151.97 L156.16,152.53 L157.72,153.07 L159.28,153.61 L160.84,154.14 L162.41,154.66 L163.97,155.18 L165.53,155.68 L167.10,156.18 L168.66,156.68 L170.22,157.16 L171.78,157.64 L173.35,158.12 L174.91,158.58 L176.47,159.04 L178.04,159.50 L179.60,159.95 L181.16,160.39 L182.72,160.83 L184.29,161.26 L185.85,161.69 L187.41,162.11 L188.98,162.53 L190.54,162.94 L192.10,163.34 L193.66,163.75 L195.23,164.14 L196.79,164.54 L198.35,164.93 L199.92,165.31 L201.48,165.69 L203.04,166.07 L204.60,166.44 L204.61,166.94 L206.17,167.34 L207.73,167.74 L209.29,168.13 L210.86,168.52 L212.42,168.90 L213.98,169.28 L215.55,169.66 L217.11,170.03 L218.67,170.41 L220.23,170.77 L221.80,171.14 L223.36,171.50 L224.92,171.86 L226.49,172.21 L228.05,172.56 L229.61,172.91 L231.17,173.26 L232.74,173.60 L234.30,173.94 L235.86,174.28 L237.43,174.62 L238.99,174.95 L240.55,175.28 L242.11,175.61 L243.68,175.93 L245.24,176.25 L246.80,176.57 L248.37,176.89 L249.93,177.21 L251.49,177.52 L253.05,177.83 L254.62,178.14 L256.18,178.42 L257.74,178.70 L259.31,178.98 L260.87,179.26 L262.43,179.53 L263.99,179.80 L265.56,180.07 L267.12,180.34 L268.68,180.61 L270.25,180.87 L271.81,181.13 L273.37,181.39 L274.93,181.65 L276.50,181.91 L278.06,182.16 L279.62,182.42 L281.19,182.67 L282.75,182.92 L284.31,183.16 L285.87,183.41 L287.44,183.66 L289.00,183.90 L290.56,184.14 L292.13,184.38 L293.69,184.62 L295.25,184.85 L296.81,185.09 L298.38,185.32 L299.94,185.55 L301.50,185.79 L303.07,186.01 L304.63,186.24 L306.19,186.47 L307.75,186.69 L309.32,186.92 L310.88,187.14 L312.44,187.36 L314.01,187.58 L315.57,187.80 L317.13,188.01 L318.69,188.23 L320.26,188.44 L321.82,188.66 L323.38,188.87 L324.95,189.08 L326.51,189.29 L328.07,189.50 L329.63,189.70 L331.20,189.91 L332.76,190.11 L334.32,190.32 L335.89,190.52 L337.45,190.72 L339.01,190.92 L340.57,191.12 L342.14,191.32 L343.70,191.52 L345.26,191.71 L346.83,191.91 L348.39,192.10 L349.95,192.29 L351.51,192.48 L353.08,192.68 L354.64,192.87" stroke="#2ca02c"/>
<path d="M54.57,21.54 L54.88,21.93 L55.20,22.71 L55.51,23.71 L55.82,24.89 L56.13,26.18 L56.45,27.55 L56.76,28.98 L57.07,30.44 L57.38,31.91 L57.70,33.39 L58.01,34.87 L58.32,36.33 L58.63,37.77 L58.95,39.19 L59.26,40.59 L59.57,41.95 L59.88,43.29 L60.20,44.60 L60.51,45.88 L60.82,47.14 L61.13,48.36 L61.45,49.55 L61.76,50.72 L62.07,51.86 L62.38,52.97 L62.70,54.06 L63.01,55.12 L63.32,56.16 L63.63,57.18 L63.95,58.17 L64.26,59.14 L64.57,60.09 L64.88,61.02 L65.20,61.93 L65.51,62.82 L65.82,63.69 L66.14,64.55 L66.45,65.39 L66.76,66.21 L67.07,67.01 L67.70,68.58 L68.32,70.09 L68.95,71.54 L69.57,72.94 L70.20,74.30 L70.82,75.61 L71.45,76.88 L72.07,78.11 L72.70,79.31 L73.32,80.47 L73.95,81.59 L74.57,82.68 L75.20,83.75 L75.82,84.78 L76.45,85.79 L77.08,86.78 L77.70,87.74 L78.33,88.67 L78.95,89.59 L79.58,90.48 L80.20,91.35 L80.83,92.20 L81.45,93.04 L82.08,93.86 L82.70,94.66 L83.33,95.44 L83.95,96.21 L84.58,96.96 L85.20,97.70 L85.83,98.42 L86.45,99.13 L87.08,99.83 L87.70,100.52 L88.33,101.19 L88.95,101.85 L89.58,102.50 L90.20,103.14 L90.83,103.77 L91.45,104.39 L92.08,104.99 L92.70,105.59 L93.33,106.18 L93.95,106.76 L94.58,107.33 L95.20,107.90 L95.83,108.45 L96.45,109.00 L97.08,109.54 L97.71,110.07 L98.33,110.59 L98.96,111.11 L99.58,111.62 L100.21,112.12 L100.83,112.62 L101.46,113.11 L102.08,113.60 L102.71,114.07 L103.33,114.54 L103.96,115.01 L104.58,115.47 L106.14,116.60 L107.71,117.69 L109.27,118.75 L110.83,119.79 L112.40,120.79 L113.96,121.77 L115.52,122.73 L117.08,123.66 L118.65,124.57 L120.21,125.46 L121.77,126.32 L123.34,127.17 L124.90,128.00 L126.46,128.81 L128.02,129.60 L129.59,130.38 L131.15,131.14 L132.71,131.89 L134.28,132.62 L135.84,133.34 L137.40,134.04 L138.96,134.73 L140.53,135.41 L142.09,136.08 L143.65,136.72 L145.22,137.34 L146.78,137.96 L148.34,138.57 L149.90,139.16 L151.47,139.75 L153.03,140.32 L154.59,140.89 L156.16,141.45 L157.72,142.00 L159.28,142.54 L160.84,143.07 L162.41,143.60 L163.97,144.12 L165.53,144.63 L167.10,145.13 L168.66,145.62 L170.22,146.11 L171.78,146.60 L173.35,147.07 L174.91,147.54 L176.47,148.00 L178.04,148.46 L179.60,148.91 L181.16,149.36 L182.72,149.79 L184.29,150.23 L185.85,150.66 L187.41,151.08 L188.98,151.50 L190.54,151.91 L192.10,152.32 L193.66,152.72 L195.23,153.12 L196.79,153.52 L198.35,153.91 L199.92,154.29 L201.48,154.67 L203.04,155.05 L204.60,155.42 L204.61,156.45 L206.17,156.84 L207.73,157.22 L209.29,157.60 L210.86,157.98 L212.42,158.35 L213.98,158.72 L215.55,159.08 L217.11,159.45 L218.67,159.80 L220.23,160.16 L221.80,160.51 L223.36,160.86 L224.92,161.20 L226.49,161.54 L228.05,161.88 L229.61,162.22 L231.17,162.55 L232.74,162.88 L234.30,163.21 L235.86,163.53 L237.43,163.85 L238.99,164.17 L240.55,164.48 L242.11,164.80 L243.68,165.11 L245.24,165.42 L246.80,165.72 L248.37,166.03 L249.93,166.33 L251.49,166.62 L253.05,166.92 L254.62,167.21 L256.18,167.51 L257.74,167.80 L259.31,168.08 L260.87,168.37 L262.43,168.65 L263.99,168.93 L265.56,169.21 L267.12,169.49 L268.68,169.76 L270.25,170.03 L271.81,170.30 L273.37,170.57 L274.93,170.84 L276.50,171.10 L278.06,171.37 L279.62,171.63 L281.19,171.89 L282.75,172.15 L284.31,172.40 L285.87,172.66 L287.44,172.91 L289.00,173.16 L290.56,173.41 L292.13,173.66 L293.69,173.90 L295.25,174.15 L296.81,174.39 L298.38,174.63 L299.94,174.87 L301.50,175.11 L303.07,175.35 L304.63,175.58 L306.19,175.82 L307.75,176.05 L309.32,176.28 L310.88,176.51 L312.44,176.74 L314.01,176.97 L315.57,177.19 L317.13,177.42 L318.69,177.64 L320.26,177.86 L321.82,178.08 L323.38,178.30 L324.95,178.52 L326.51,178.73 L328.07,178.95 L329.63,179.16 L331.20,179.38 L332.76,179.59 L334.32,179.80 L335.89,180.01 L337.45,180.22 L339.01,180.42 L340.57,180.63 L342.14,180.83 L343.70,181.04 L345.26,181.24 L346.83,181.44 L348.39,181.64 L349.95,181.84 L351.51,182.04 L353.08,182.24 L354.64,182.44" stroke="#2ca02c" stroke-dasharray="4.6 1.95" stroke-width="1.6"/>
<path d="M54.57,54.10 L54.88,56.50 L55.20,59.01 L55.51,61.47 L55.82,63.82 L56.13,66.08 L56.45,68.24 L56.76,70.30 L57.07,72.27 L57.38,74.16 L57.70,75.96 L58.01,77.70 L58.32,79.36 L58.63,80.97 L58.95,82.51 L59.26,83.99 L59.57,85.43 L59.88,86.81 L60.20,88.15 L60.51,89.45 L60.82,90.71 L61.13,91.92 L61.45,93.11 L61.76,94.26 L62.07,95.37 L62.38,96.46 L62.70,97.51 L63.01,98.54 L63.32,99.55 L63.63,100.53 L63.95,101.48 L64.26,102.41 L64.57,103.33 L64.88,104.22 L65.20,105.09 L65.51,105.94 L65.82,106.77 L66.14,107.59 L66.45,108.39 L66.76,109.17 L67.07,109.94 L67.70,111.44 L68.32,112.87 L68.95,114.26 L69.57,115.60 L70.20,116.90 L70.82,118.15 L71.45,119.36 L72.07,120.54 L72.70,121.69 L73.32,122.80 L73.95,123.88 L74.57,124.93 L75.20,125.95 L75.82,126.95 L76.45,127.92 L77.08,128.87 L77.70,129.79 L78.33,130.69 L78.95,131.58 L79.58,132.44 L80.20,133.29 L80.83,134.11 L81.45,134.92 L82.08,135.71 L82.70,136.49 L83.33,137.25 L83.95,138.00 L84.58,138.73 L85.20,139.45 L85.83,140.16 L86.45,140.85 L87.08,141.53 L87.70,142.20 L88.33,142.86 L88.95,143.50 L89.58,144.14 L90.20,144.77 L90.83,145.38 L91.45,145.99 L92.08,146.58 L92.70,147.17 L93.33,147.75 L93.95,148.32 L94.58,148.88 L95.20,149.44 L95.83,149.98 L96.45,150.52 L97.08,151.05 L97.71,151.57 L98.33,152.09 L98.96,152.60 L99.58,153.10 L100.21,153.60 L100.83,154.09 L101.46,154.58 L102.08,155.05 L102.71,155.53 L103.33,155.99 L103.96,156.45 L104.58,156.91 L106.14,158.03 L107.71,159.11 L109.27,160.16 L110.83,161.19 L112.40,162.19 L113.96,163.17 L115.52,164.12 L117.08,165.04 L118.65,165.95 L120.21,166.83 L121.77,167.70 L123.34,168.55 L124.90,169.37 L126.46,170.18 L128.02,170.98 L129.59,171.75 L131.15,172.52 L132.71,173.26 L134.28,174.00 L135.84,174.72 L137.40,175.42 L138.96,176.12 L140.53,176.80 L142.09,177.47 L143.65,178.12 L145.22,178.77 L146.78,179.41 L148.34,180.03 L149.90,180.65 L151.47,181.25 L153.03,181.85 L154.59,182.44 L156.16,183.02 L157.72,183.59 L159.28,184.15 L160.84,184.70 L162.41,185.25 L163.97,185.78 L165.53,186.31 L167.10,186.84 L168.66,187.35 L170.22,187.86 L171.78,188.37 L173.35,188.86 L174.91,189.35 L176.47,189.84 L178.04,190.31 L179.60,190.79 L181.16,191.25 L182.72,191.71 L184.29,192.17 L185.85,192.62 L187.41,193.06 L188.98,193.50 L190.54,193.93 L192.10,194.36 L193.66,194.79 L195.23,195.21 L196.79,195.62 L198.35,196.04 L199.92,196.44 L201.48,196.85 L203.04,197.24 L204.60,197.64 L204.61,197.64 L206.17,198.03 L207.73,198.41 L209.29,198.80 L210.86,199.18 L212.42,199.55 L213.98,199.92 L215.55,200.29 L217.11,200.65 L218.67,201.01 L220.23,201.37 L221.80,201.73 L223.36,202.08 L224.92,202.43 L226.49,202.77 L228.05,203.11 L229.61,203.45 L231.17,203.79 L232.74,204.12 L234.30,204.45 L235.86,204.78 L237.43,205.10 L238.99,205.42 L240.55,205.74 L242.11,206.06 L243.68,206.37 L245.24,206.68 L246.80,206.99 L248.37,207.30 L249.93,207.60 L251.49,207.90 L253.05,208.20 L254.62,208.50 L256.18,208.79 L257.74,209.08 L259.31,209.37 L260.87,209.66 L262.43,209.95 L263.99,210.23 L265.56,210.51 L267.12,210.79 L268.68,211.07 L270.25,211.34 L271.81,211.62 L273.37,211.89 L274.93,212.16 L276.50,212.43 L278.06,212.69 L279.62,212.95 L281.19,213.22 L282.75,213.48 L284.31,213.74 L285.87,213.99 L287.44,214.25 L289.00,214.50 L290.56,214.75 L292.13,215.00 L293.69,215.25 L295.25,215.50 L296.81,215.74 L298.38,215.99 L299.94,216.23 L301.50,216.47 L303.07,216.71 L304.63,216.95 L306.19,217.19 L307.75,217.42 L309.32,217.65 L310.88,217.89 L312.44,218.12 L314.01,218.35 L315.57,218.57 L317.13,218.80 L318.69,219.03 L320.26,219.25 L321.82,219.47 L323.38,219.69 L324.95,219.91 L326.51,220.13 L328.07,220.35 L329.63,220.57 L331.20,220.78 L332.76,220.99 L334.32,221.21 L335.89,221.42 L337.45,221.63 L339.01,221.84 L340.57,222.05 L342.14,222.25 L343.70,222.46 L345.26,222.66 L346.83,222.87 L348.39,223.07 L349.95,223.27 L351.51,223.47 L353.08,223.67 L354.64,223.87" stroke="#000000"/>
<path d="M54.57,54.24 L54.88,54.36 L55.20,54.66 L55.51,55.09 L55.82,55.65 L56.13,56.30 L56.45,57.03 L56.76,57.84 L57.07,58.71 L57.38,59.62 L57.70,60.58 L58.01,61.56 L58.32,62.57 L58.63,63.59 L58.95,64.62 L59.26,65.66 L59.57,66.70 L59.88,67.73 L60.20,68.76 L60.51,69.79 L60.82,70.81 L61.13,71.81 L61.45,72.80 L61.76,73.79 L62.07,74.75 L62.38,75.71 L62.70,76.65 L63.01,77.57 L63.32,78.49 L63.63,79.38 L63.95,80.26 L64.26,81.13 L64.57,81.98 L64.88,82.82 L65.20,83.65 L65.51,84.46 L65.82,85.25 L66.14,86.04 L66.45,86.81 L66.76,87.57 L67.07,88.31 L67.70,89.77 L68.32,91.17 L68.95,92.54 L69.57,93.86 L70.20,95.14 L70.82,96.38 L71.45,97.59 L72.07,98.76 L72.70,99.90 L73.32,101.01 L73.95,102.08 L74.57,103.13 L75.20,104.15 L75.82,105.15 L76.45,106.12 L77.08,107.07 L77.70,108.00 L78.33,108.90 L78.95,109.78 L79.58,110.65 L80.20,111.49 L80.83,112.32 L81.45,113.13 L82.08,113.92 L82.70,114.70 L83.33,115.46 L83.95,116.21 L84.58,116.94 L85.20,117.66 L85.83,118.36 L86.45,119.05 L87.08,119.73 L87.70,120.40 L88.33,121.05 L88.95,121.70 L89.58,122.33 L90.20,122.96 L90.83,123.57 L91.45,124.17 L92.08,124.77 L92.70,125.35 L93.33,125.93 L93.95,126.49 L94.58,127.05 L95.20,127.60 L95.83,128.14 L96.45,128.68 L97.08,129.20 L97.71,129.72 L98.33,130.23 L98.96,130.74 L99.58,131.24 L100.21,131.73 L100.83,132.22 L101.46,132.69 L102.08,133.17 L102.71,133.64 L103.33,134.10 L103.96,134.55 L104.58,135.00 L106.14,136.10 L107.71,137.17 L109.27,138.21 L110.83,139.23 L112.40,140.21 L113.96,141.17 L115.52,142.11 L117.08,143.02 L118.65,143.91 L120.21,144.78 L121.77,145.63 L123.34,146.45 L124.90,147.27 L126.46,148.06 L128.02,148.84 L129.59,149.60 L131.15,150.34 L132.71,151.08 L134.28,151.79 L135.84,152.49 L137.40,153.18 L138.96,153.86 L140.53,154.53 L142.09,155.18 L143.65,155.80 L145.22,156.41 L146.78,157.01 L148.34,157.60 L149.90,158.18 L151.47,158.75 L153.03,159.31 L154.59,159.86 L156.16,160.41 L157.72,160.94 L159.28,161.47 L160.84,161.98 L162.41,162.49 L163.97,163.00 L165.53,163.49 L167.10,163.98 L168.66,164.46 L170.22,164.94 L171.78,165.40 L173.35,165.87 L174.91,166.32 L176.47,166.77 L178.04,167.21 L179.60,167.65 L181.16,168.08 L182.72,168.51 L184.29,168.93 L185.85,169.35 L187.41,169.76 L188.98,170.16 L190.54,170.56 L192.10,170.96 L193.66,171.35 L195.23,171.74 L196.79,172.12 L198.35,172.50 L199.92,172.87 L201.48,173.24 L203.04,173.60 L204.60,173.97 L204.61,175.46 L206.17,175.84 L207.73,176.21 L209.29,176.59 L210.86,176.96 L212.42,177.32 L213.98,177.68 L215.55,178.04 L217.11,178.40 L218.67,178.75 L220.23,179.10 L221.80,179.45 L223.36,179.79 L224.92,180.13 L226.49,180.46 L228.05,180.80 L229.61,181.13 L231.17,181.45 L232.74,181.78 L234.30,182.10 L235.86,182.42 L237.43,182.74 L238.99,183.05 L240.55,183.36 L242.11,183.67 L243.68,183.98 L245.24,184.28 L246.80,184.58 L248.37,184.88 L249.93,185.18 L251.49,185.47 L253.05,185.76 L254.62,186.05 L256.18,186.34 L257.74,186.62 L259.31,186.91 L260.87,187.19 L262.43,187.47 L263.99,187.74 L265.56,188.02 L267.12,188.29 L268.68,188.56 L270.25,188.83 L271.81,189.10 L273.37,189.36 L274.93,189.62 L276.50,189.89 L278.06,190.14 L279.62,190.40 L281.19,190.66 L282.75,190.91 L284.31,191.16 L285.87,191.42 L287.44,191.66 L289.00,191.91 L290.56,192.16 L292.13,192.40 L293.69,192.65 L295.25,192.89 L296.81,193.13 L298.38,193.36 L299.94,193.60 L301.50,193.84 L303.07,194.07 L304.63,194.30 L306.19,194.53 L307.75,194.76 L309.32,194.99 L310.88,195.22 L312.44,195.44 L314.01,195.67 L315.57,195.89 L317.13,196.11 L318.69,196.33 L320.26,196.55 L321.82,196.77 L323.38,196.98 L324.95,197.20 L326.51,197.41 L328.07,197.62 L329.63,197.84 L331.20,198.05 L332.76,198.25 L334.32,198.46 L335.89,198.67 L337.45,198.88 L339.01,199.08 L340.57,199.28 L342.14,199.49 L343.70,199.69 L345.26,199.89 L346.83,200.09 L348.39,200.28 L349.95,200.48 L351.51,200.68 L353.08,200.87 L354.64,201.07" stroke="#000000" stroke-dasharray="4.6 1.95" stroke-width="1.6"/>
</g>
<rect x="54.57" y="21.54" width="300.07" height="224.36" fill="none" stroke="#000" stroke-width="0.95"/>
<path d="M54.57,245.9v3.3M54.57,21.54v-2.9M104.58,245.9v3.3M104.58,21.54v-2.9M154.59,245.9v3.3M154.59,21.54v-2.9M204.60,245.9v3.3M204.60,21.54v-2.9M254.62,245.9v3.3M254.62,21.54v-2.9M304.63,245.9v3.3M304.63,21.54v-2.9M354.64,245.9v3.3M354.64,21.54v-2.9M54.57,21.54h-3.3M54.57,29.43h-3.3M54.57,38.25h-3.3M54.57,48.25h-3.3M54.57,59.80h-3.3M54.57,73.45h-3.3M54.57,90.16h-3.3M54.57,111.71h-3.3M54.57,142.08h-3.3M54.57,193.99h-3.3" fill="none" stroke="#000" stroke-width="0.8"/>
<g filter="url(#noop)">
<text x="54.57" y="259.70" text-anchor="middle" textLength="6.49" lengthAdjust="spacingAndGlyphs">0</text>
<text x="104.58" y="259.70" text-anchor="middle" textLength="6.49" lengthAdjust="spacingAndGlyphs">4</text>
<text x="154.59" y="259.70" text-anchor="middle" textLength="6.49" lengthAdjust="spacingAndGlyphs">8</text>
<text x="204.60" y="259.70" text-anchor="middle" textLength="12.98" lengthAdjust="spacingAndGlyphs">12</text>
<text x="254.62" y="259.70" text-anchor="middle" textLength="12.98" lengthAdjust="spacingAndGlyphs">16</text>
<text x="304.63" y="259.70" text-anchor="middle" textLength="12.98" lengthAdjust="spacingAndGlyphs">20</text>
<text x="354.64" y="259.70" text-anchor="middle" textLength="12.98" lengthAdjust="spacingAndGlyphs">24</text>
<text x="54.57" y="13.80" text-anchor="middle" textLength="6.49" lengthAdjust="spacingAndGlyphs">0</text>
<text x="104.58" y="13.80" text-anchor="middle" textLength="25.96" lengthAdjust="spacingAndGlyphs">1309</text>
<text x="154.59" y="13.80" text-anchor="middle" textLength="25.96" lengthAdjust="spacingAndGlyphs">2618</text>
<text x="204.60" y="13.80" text-anchor="middle" textLength="25.96" lengthAdjust="spacingAndGlyphs">3927</text>
<text x="254.62" y="13.80" text-anchor="middle" textLength="25.96" lengthAdjust="spacingAndGlyphs">5236</text>
<text x="304.63" y="13.80" text-anchor="middle" textLength="25.96" lengthAdjust="spacingAndGlyphs">6545</text>
<text x="354.64" y="13.80" text-anchor="middle" textLength="25.96" lengthAdjust="spacingAndGlyphs">7855</text>
<text x="48.45" y="25.84" text-anchor="end" textLength="29.16" lengthAdjust="spacingAndGlyphs">100%</text>
<text x="48.45" y="33.73" text-anchor="end" textLength="22.67" lengthAdjust="spacingAndGlyphs">90%</text>
<text x="48.45" y="42.55" text-anchor="end" textLength="22.67" lengthAdjust="spacingAndGlyphs">80%</text>
<text x="48.45" y="52.55" text-anchor="end" textLength="22.67" lengthAdjust="spacingAndGlyphs">70%</text>
<text x="48.45" y="64.10" text-anchor="end" textLength="22.67" lengthAdjust="spacingAndGlyphs">60%</text>
<text x="48.45" y="77.75" text-anchor="end" textLength="22.67" lengthAdjust="spacingAndGlyphs">50%</text>
<text x="48.45" y="94.46" text-anchor="end" textLength="22.67" lengthAdjust="spacingAndGlyphs">40%</text>
<text x="48.45" y="116.01" text-anchor="end" textLength="22.67" lengthAdjust="spacingAndGlyphs">30%</text>
<text x="48.45" y="146.38" text-anchor="end" textLength="22.67" lengthAdjust="spacingAndGlyphs">20%</text>
<text x="48.45" y="198.29" text-anchor="end" textLength="22.67" lengthAdjust="spacingAndGlyphs">10%</text>
<text x="138.90" y="273.00" text-anchor="start" textLength="62.11" lengthAdjust="spacingAndGlyphs">Observation</text>
<text x="204.26" y="273.00" text-anchor="start" textLength="24.96" lengthAdjust="spacingAndGlyphs">Time</text>
<text x="232.46" y="273.00" text-anchor="start" textLength="37.84" lengthAdjust="spacingAndGlyphs">[Hours]</text>
<text transform="translate(12.6,144.8) rotate(-90)"><tspan x="0" font-style="italic">s</tspan><tspan x="5.3" dy="1.9" font-style="italic" font-size="8.6px">k</tspan><tspan x="10.0" dy="-1.9">(</tspan><tspan x="14.4" font-style="italic">t</tspan><tspan x="18.2">)</tspan></text>
</g>
<g filter="url(#noop)">
<rect x="269.75" y="27" width="80.1" height="60.8" rx="2" ry="2" fill="#fff" fill-opacity="0.8" stroke="#ccc" stroke-width="0.8"/>
<path d="M273.2,35.20h21.6" stroke="#1f77b4" stroke-width="1.5" fill="none"/>
<text x="302.20" y="38.80" text-anchor="start" textLength="30.28" lengthAdjust="spacingAndGlyphs">2_136</text>
<path d="M273.2,50.10h21.6" stroke="#ff7f0e" stroke-width="1.5" fill="none"/>
<text x="302.20" y="53.70" text-anchor="start" textLength="30.28" lengthAdjust="spacingAndGlyphs">2_143</text>
<path d="M273.2,65.00h21.6" stroke="#2ca02c" stroke-width="1.5" fill="none"/>
<text x="302.20" y="68.60" text-anchor="start" textLength="42.94" lengthAdjust="spacingAndGlyphs">136_143</text>
<path d="M273.2,79.90h21.6" stroke="#000000" stroke-width="1.5" fill="none"/>
<text x="302.20" y="83.50" text-anchor="start" textLength="18.42" lengthAdjust="spacingAndGlyphs">Avg</text>
</g>
</svg></body></html>
